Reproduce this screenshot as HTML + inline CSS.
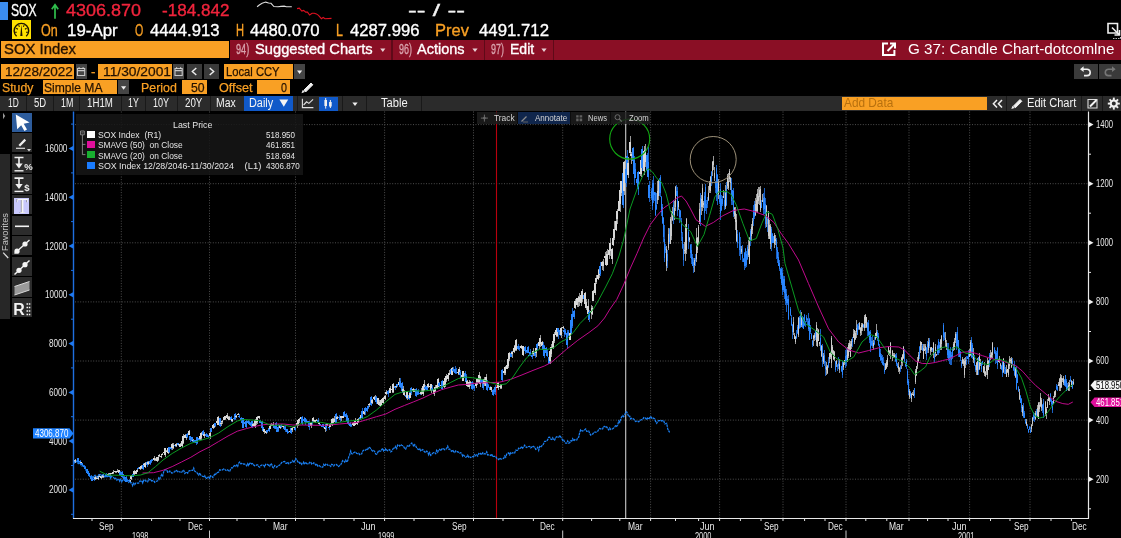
<!DOCTYPE html>
<html><head><meta charset="utf-8"><title>SOX Index - G 37: Candle Chart</title>
<style>
html,body{margin:0;padding:0;background:#000;}
body{width:1121px;height:538px;position:relative;overflow:hidden;font-family:"Liberation Sans", Arial, sans-serif;}
#w{position:absolute;left:0;top:0;width:1121px;height:538px;will-change:transform;}
.t{position:absolute;white-space:pre;transform-origin:0 0;display:block;}
.b{position:absolute;}
.ov{position:absolute;left:0;top:0;}
svg text.ax{font-family:"Liberation Sans", Arial, sans-serif;font-size:10px;fill:#e6e6e6;}
svg .u{stroke:#d8d8d8;stroke-width:2;}
svg .d{stroke:#2a86ff;stroke-width:2;}
svg .u1{stroke:#cccccc;stroke-width:1;}
svg .d1{stroke:#2a86ff;stroke-width:1;}
svg .g{stroke:#4e4e4e;stroke-width:1;stroke-dasharray:1 1.6;}
</style></head>
<body>
<div id="w">
<svg class="ov" width="1121" height="538" viewBox="0 0 1121 538">
<line x1="75" x2="1088.5" y1="124.6" y2="124.6" class="g"/>
<line x1="75" x2="1088.5" y1="183.7" y2="183.7" class="g"/>
<line x1="75" x2="1088.5" y1="242.8" y2="242.8" class="g"/>
<line x1="75" x2="1088.5" y1="301.9" y2="301.9" class="g"/>
<line x1="75" x2="1088.5" y1="361.0" y2="361.0" class="g"/>
<line x1="75" x2="1088.5" y1="420.1" y2="420.1" class="g"/>
<line x1="75" x2="1088.5" y1="479.2" y2="479.2" class="g"/>
<line x1="121.3" x2="121.3" y1="111.5" y2="518.5" class="g"/>
<line x1="209.5" x2="209.5" y1="111.5" y2="518.5" class="g"/>
<line x1="295.5" x2="295.5" y1="111.5" y2="518.5" class="g"/>
<line x1="384.6" x2="384.6" y1="111.5" y2="518.5" class="g"/>
<line x1="473.5" x2="473.5" y1="111.5" y2="518.5" class="g"/>
<line x1="562.7" x2="562.7" y1="111.5" y2="518.5" class="g"/>
<line x1="650.6" x2="650.6" y1="111.5" y2="518.5" class="g"/>
<line x1="719.6" x2="719.6" y1="111.5" y2="518.5" class="g"/>
<line x1="783.0" x2="783.0" y1="111.5" y2="518.5" class="g"/>
<line x1="846.0" x2="846.0" y1="111.5" y2="518.5" class="g"/>
<line x1="909.0" x2="909.0" y1="111.5" y2="518.5" class="g"/>
<line x1="969.6" x2="969.6" y1="111.5" y2="518.5" class="g"/>
<line x1="1030.0" x2="1030.0" y1="111.5" y2="518.5" class="g"/>
<line x1="496.5" x2="496.5" y1="111.5" y2="518.5" stroke="#b8000e" stroke-width="1.1"/>
<line x1="625.7" x2="625.7" y1="111.5" y2="518.5" stroke="#cacaca" stroke-width="1.1"/>
<g shape-rendering="crispEdges" fill="none">
<path d="M74.5 460.6V463.3M77.5 459.7V461.8M78.5 457.5V462.9M80.5 460.2V462.7M82.5 463.2V465.9M84.5 465.0V468.3M85.5 465.6V469.1M87.5 468.5V473.5M88.5 470.6V474.1M89.5 473.1V477.2M91.5 474.9V479.2M92.5 476.8V480.8M94.5 477.4V480.6M105.5 475.4V477.0M106.5 472.8V477.4M120.5 471.1V475.5M122.5 471.2V477.9M123.5 474.2V476.7M124.5 476.1V479.9M126.5 476.4V482.2M127.5 479.1V482.1M129.5 479.0V482.0M133.5 473.2V477.4M138.5 466.9V469.3M143.5 463.3V469.7M147.5 461.4V466.5M150.5 460.3V464.6M151.5 458.8V462.6M152.5 459.3V461.4M169.5 446.6V452.5M171.5 445.4V449.7M175.5 444.2V446.7M178.5 442.7V445.7M187.5 433.2V437.7M190.5 435.5V442.3M192.5 437.0V442.3M194.5 440.1V442.6M196.5 440.0V444.8M197.5 436.6V443.7M199.5 435.6V440.2M203.5 429.8V434.9M206.5 432.5V435.8M207.5 434.0V437.2M208.5 435.1V438.1M211.5 427.8V432.0M215.5 422.6V426.7M220.5 417.7V427.0M231.5 416.4V421.8M234.5 416.0V420.3M235.5 412.6V420.2M239.5 413.6V418.4M241.5 416.9V421.0M242.5 418.1V423.8M243.5 417.7V428.0M245.5 421.7V424.2M246.5 420.2V428.1M248.5 420.1V424.3M249.5 420.7V424.5M250.5 421.7V425.8M252.5 420.5V427.5M260.5 419.8V423.3M262.5 421.0V429.1M263.5 426.6V431.6M267.5 430.2V432.9M269.5 427.4V431.8M274.5 425.4V429.3M276.5 421.6V430.2M277.5 428.6V432.4M278.5 423.5V432.3M281.5 423.6V427.6M284.5 426.1V429.8M285.5 424.9V432.1M287.5 428.8V433.9M288.5 431.1V433.3M291.5 428.0V434.4M295.5 426.8V431.2M302.5 416.4V424.9M304.5 417.1V421.3M305.5 418.2V424.6M306.5 418.8V422.7M308.5 421.0V423.7M309.5 421.1V430.2M312.5 421.3V424.5M318.5 418.3V423.0M320.5 423.6V426.2M322.5 424.4V426.9M323.5 423.5V427.8M326.5 423.3V430.8M329.5 426.4V430.0M336.5 413.1V422.7M339.5 415.1V419.5M340.5 416.9V421.6M344.5 411.1V416.7M346.5 413.2V418.0M347.5 415.3V421.4M348.5 417.9V424.9M350.5 421.5V427.0M351.5 424.2V426.7M360.5 416.6V419.8M362.5 408.4V419.1M365.5 406.7V414.8M367.5 407.4V411.8M368.5 404.5V408.9M371.5 395.7V405.7M376.5 396.3V403.5M388.5 390.0V396.7M389.5 388.3V393.1M395.5 385.8V389.9M397.5 383.6V387.2M400.5 377.9V387.8M402.5 382.2V392.5M406.5 393.9V398.7M409.5 392.1V399.9M411.5 386.5V395.1M416.5 387.9V397.2M417.5 389.6V395.3M418.5 389.0V395.0M420.5 392.3V395.2M425.5 384.9V390.0M427.5 383.7V391.2M432.5 385.4V390.8M439.5 382.4V386.8M442.5 380.3V390.2M451.5 368.0V375.2M453.5 366.9V372.3M455.5 365.5V373.6M456.5 367.9V373.9M460.5 370.0V377.8M465.5 371.0V379.6M466.5 373.7V383.3M472.5 381.0V389.8M473.5 384.4V388.8M474.5 385.1V390.6M481.5 379.2V383.3M483.5 379.0V389.8M487.5 379.7V391.1M488.5 383.9V387.9M490.5 385.6V390.2M493.5 389.2V395.8M494.5 389.4V394.2M495.5 385.3V395.2M502.5 369.3V381.9M511.5 351.3V356.8M518.5 343.9V349.7M519.5 345.5V350.9M525.5 345.8V354.3M526.5 349.5V353.3M528.5 345.8V353.4M529.5 352.4V356.3M530.5 349.2V356.1M532.5 353.0V358.7M535.5 349.3V357.9M537.5 342.8V350.4M543.5 341.9V351.4M544.5 344.7V358.0M546.5 347.2V353.7M547.5 348.8V357.2M549.5 355.8V364.1M558.5 327.9V338.7M560.5 327.9V336.0M564.5 328.4V337.2M565.5 329.1V335.2M567.5 329.9V349.1M568.5 330.2V335.9M571.5 318.9V334.0M572.5 307.5V327.5M574.5 309.8V319.3M584.5 294.2V300.4M589.5 310.3V321.9M600.5 262.4V276.3M623.5 169.7V208.0M626.5 163.1V187.0M627.5 150.3V170.8M633.5 147.1V161.9M634.5 156.3V185.1M635.5 163.2V178.3M637.5 171.7V188.0M638.5 170.7V195.2M642.5 145.7V170.9M647.5 152.6V173.6M648.5 146.5V179.5M649.5 180.8V201.6M651.5 187.9V200.4M652.5 180.1V209.9M653.5 176.1V202.9M654.5 191.5V200.7M655.5 191.8V215.6M656.5 192.5V209.6M659.5 178.2V195.7M660.5 174.9V196.8M661.5 195.8V215.8M662.5 203.5V223.5M663.5 217.3V241.7M664.5 225.2V261.7M665.5 243.6V253.2M667.5 250.4V268.1M669.5 227.6V243.5M673.5 200.1V224.2M676.5 184.5V196.0M677.5 187.2V215.7M679.5 208.8V223.3M680.5 209.9V221.3M681.5 218.1V241.3M682.5 232.4V249.3M683.5 243.5V265.5M688.5 224.0V249.0M690.5 243.8V257.6M691.5 244.1V263.8M692.5 253.9V266.3M693.5 258.4V272.8M695.5 253.5V266.4M700.5 193.4V225.6M704.5 191.5V219.8M705.5 184.2V211.1M706.5 199.6V214.0M707.5 197.4V207.7M711.5 170.6V186.3M715.5 181.2V193.1M716.5 165.2V201.1M717.5 173.6V204.8M719.5 194.8V203.8M720.5 182.5V220.0M721.5 194.7V211.3M722.5 196.2V206.1M724.5 190.6V209.7M726.5 182.3V205.9M731.5 177.7V205.2M732.5 190.0V205.3M733.5 188.4V216.8M737.5 229.7V247.6M739.5 231.8V255.9M740.5 237.4V259.5M742.5 245.0V261.9M743.5 257.9V262.4M744.5 252.2V270.3M745.5 248.2V268.4M746.5 251.4V266.5M747.5 245.0V260.1M750.5 228.9V245.8M753.5 205.3V225.6M754.5 201.4V219.0M761.5 200.2V208.3M763.5 193.1V215.1M764.5 188.3V214.3M765.5 197.5V228.1M767.5 217.3V231.7M771.5 226.7V251.3M772.5 232.9V242.9M773.5 236.1V243.2M776.5 238.1V258.7M777.5 246.8V262.8M778.5 251.7V266.1M779.5 259.7V270.8M780.5 267.9V279.1M781.5 267.1V284.6M782.5 268.4V295.1M783.5 276.4V292.4M784.5 276.4V299.2M785.5 286.2V304.7M786.5 289.4V312.0M787.5 296.1V304.5M788.5 295.1V319.8M790.5 307.3V316.1M791.5 315.4V326.0M792.5 323.8V339.4M796.5 330.3V338.8M797.5 325.4V333.9M799.5 316.4V329.2M800.5 310.4V328.1M802.5 316.2V327.8M803.5 316.9V329.1M804.5 313.6V326.0M805.5 321.1V326.5M806.5 314.9V322.2M807.5 317.6V325.0M808.5 312.7V331.4M809.5 318.2V340.2M810.5 324.5V334.1M811.5 332.7V339.3M812.5 339.8V347.3M815.5 330.0V339.8M820.5 329.2V350.8M822.5 343.7V366.5M824.5 350.1V365.7M825.5 360.8V375.6M828.5 356.8V368.1M835.5 360.5V372.0M837.5 363.5V370.8M838.5 356.8V369.0M841.5 365.5V371.7M842.5 361.4V378.2M845.5 349.7V368.0M846.5 348.2V365.7M852.5 336.7V346.7M857.5 324.4V334.8M858.5 323.1V329.8M863.5 323.6V328.2M867.5 321.7V335.7M868.5 319.5V335.6M869.5 331.1V343.3M870.5 329.7V352.2M871.5 337.2V346.0M872.5 336.4V348.0M874.5 336.6V345.4M877.5 329.5V341.1M878.5 333.3V345.5M879.5 344.0V357.2M880.5 349.4V360.9M881.5 353.9V362.6M882.5 355.0V364.8M883.5 357.3V366.0M884.5 363.0V373.8M895.5 353.9V361.9M896.5 352.6V366.0M897.5 363.3V368.3M900.5 365.1V371.9M904.5 349.3V363.2M905.5 361.5V366.8M906.5 358.8V368.6M907.5 369.1V385.4M908.5 379.2V394.5M910.5 391.3V398.4M914.5 387.6V398.2M919.5 346.0V358.7M922.5 344.4V351.0M926.5 346.9V359.7M927.5 340.7V353.1M929.5 337.8V348.3M932.5 347.7V351.8M934.5 352.9V362.3M937.5 344.7V354.8M938.5 338.9V355.1M939.5 342.0V352.9M943.5 322.9V340.5M944.5 331.6V340.1M947.5 343.1V358.4M948.5 342.9V361.3M949.5 348.9V363.7M950.5 346.6V364.7M951.5 351.8V364.7M952.5 347.3V358.5M956.5 332.2V350.1M957.5 327.4V346.9M958.5 339.5V356.7M959.5 347.6V356.8M960.5 351.4V360.5M961.5 359.7V368.0M966.5 355.7V365.4M967.5 355.8V359.3M968.5 350.1V363.8M971.5 337.2V357.5M972.5 343.0V359.2M974.5 354.8V366.4M975.5 364.6V372.1M978.5 356.8V374.6M981.5 362.0V371.6M982.5 360.6V364.6M989.5 353.4V367.4M994.5 346.6V354.3M995.5 350.2V364.3M996.5 350.8V362.9M997.5 347.4V369.0M1001.5 364.7V369.8M1002.5 360.5V376.6M1004.5 363.4V374.3M1005.5 366.7V374.4M1012.5 358.2V365.3M1013.5 364.1V370.5M1014.5 361.0V375.9M1016.5 366.0V389.6M1017.5 374.2V383.3M1018.5 386.4V391.7M1020.5 395.2V402.8M1021.5 397.6V411.5M1023.5 402.9V418.0M1024.5 411.4V418.4M1025.5 418.7V423.6M1027.5 424.3V428.7M1028.5 428.5V432.8M1029.5 426.3V430.0M1030.5 427.2V433.0M1033.5 412.2V420.5M1034.5 412.7V421.5M1036.5 409.1V417.1M1042.5 404.3V412.8M1043.5 399.2V417.8M1050.5 393.2V402.2M1051.5 399.3V405.6M1052.5 400.5V413.3M1056.5 384.3V389.6M1057.5 384.6V390.5M1064.5 379.2V385.6M1065.5 374.5V387.4M1066.5 379.4V391.4M1067.5 383.2V389.8M1070.5 375.8V381.9M1072.5 380.7V388.8" stroke="#1a5fc0" stroke-width="1"/>
<path d="M75.5 458.9V462.9M81.5 461.7V465.1M95.5 476.3V479.6M96.5 477.1V479.1M98.5 475.5V479.7M99.5 474.2V477.1M101.5 475.2V478.6M102.5 474.8V477.7M103.5 474.0V477.5M108.5 473.0V475.5M109.5 473.5V474.9M110.5 472.9V475.5M112.5 472.3V474.3M113.5 469.8V473.5M115.5 470.7V472.8M116.5 470.5V472.7M117.5 468.9V472.0M119.5 469.5V473.5M130.5 479.5V481.9M131.5 475.2V479.9M134.5 470.1V474.7M136.5 470.4V474.4M137.5 469.2V472.0M140.5 467.0V469.6M141.5 464.7V468.9M144.5 464.2V465.9M145.5 462.3V467.7M148.5 461.3V464.7M154.5 456.4V460.9M155.5 458.3V461.1M157.5 456.9V462.3M158.5 456.0V461.4M159.5 453.9V456.9M161.5 454.9V457.9M162.5 453.2V455.1M164.5 451.6V453.9M165.5 447.5V457.1M166.5 450.1V452.3M168.5 447.3V453.5M172.5 443.4V449.9M173.5 443.4V448.8M176.5 443.3V446.6M179.5 444.1V446.0M180.5 443.2V447.1M182.5 439.9V447.0M183.5 434.0V443.6M185.5 433.9V438.1M186.5 435.0V439.8M189.5 430.2V435.1M193.5 438.7V441.1M200.5 434.2V439.8M201.5 431.8V440.2M204.5 432.4V437.5M210.5 432.1V438.5M213.5 424.0V429.0M214.5 423.8V428.0M217.5 420.9V423.5M218.5 415.9V425.4M221.5 421.9V425.5M222.5 420.0V423.6M224.5 416.5V419.7M225.5 415.9V419.8M227.5 413.2V418.4M228.5 416.1V419.9M229.5 415.6V420.1M232.5 418.7V422.0M236.5 414.5V417.5M238.5 413.0V415.4M253.5 423.3V425.8M255.5 419.0V428.1M256.5 420.6V424.8M257.5 415.8V424.0M259.5 415.6V418.6M264.5 428.5V433.5M266.5 429.6V433.7M270.5 424.7V429.2M271.5 422.5V426.4M273.5 421.7V426.9M280.5 425.1V428.9M283.5 425.7V427.6M290.5 428.3V432.6M292.5 427.4V431.6M294.5 427.0V429.6M297.5 422.6V428.0M298.5 419.0V425.7M299.5 417.7V423.3M301.5 416.5V420.2M311.5 422.7V427.6M313.5 417.3V421.6M315.5 419.6V422.5M316.5 418.8V420.5M319.5 422.3V425.2M325.5 425.7V431.8M327.5 423.3V426.1M330.5 422.9V426.8M332.5 417.9V425.6M333.5 418.2V423.3M334.5 415.9V421.9M337.5 415.9V419.2M341.5 415.5V420.8M343.5 415.1V418.0M353.5 422.0V424.8M354.5 421.8V426.0M355.5 418.3V424.8M357.5 419.6V425.0M358.5 418.4V422.6M361.5 413.7V418.3M364.5 409.6V415.1M369.5 403.1V406.5M372.5 399.1V403.8M374.5 396.4V399.2M375.5 395.3V401.3M378.5 397.7V405.0M379.5 400.2V406.3M381.5 398.5V406.1M382.5 398.4V403.2M383.5 397.4V404.0M385.5 395.3V399.8M386.5 389.6V394.7M390.5 386.2V393.1M392.5 388.0V392.6M393.5 382.5V393.2M396.5 385.3V387.6M399.5 378.2V386.2M403.5 386.0V393.5M404.5 390.0V395.8M407.5 390.7V399.8M410.5 392.0V398.4M413.5 387.9V391.5M414.5 388.6V392.2M421.5 387.6V395.3M423.5 385.4V395.5M424.5 380.1V390.7M428.5 383.0V388.0M430.5 384.6V388.3M431.5 383.9V392.6M434.5 387.5V395.7M435.5 384.5V391.9M437.5 384.4V389.0M438.5 377.6V386.9M441.5 382.4V387.4M444.5 380.5V387.8M445.5 377.4V386.5M446.5 374.2V382.1M448.5 372.6V380.7M449.5 369.7V375.4M452.5 367.1V375.2M458.5 369.2V375.3M459.5 366.6V375.1M462.5 373.2V379.2M463.5 370.5V381.0M467.5 379.9V386.5M469.5 379.7V389.4M470.5 380.7V385.9M476.5 382.4V388.0M477.5 377.5V384.7M479.5 372.4V384.4M480.5 376.4V387.3M484.5 376.9V385.6M486.5 374.4V386.4M491.5 387.0V391.5M497.5 386.1V388.2M498.5 382.2V389.5M500.5 384.0V388.8M501.5 383.7V389.0M504.5 369.7V375.2M505.5 365.8V374.6M507.5 363.6V369.1M508.5 356.0V368.3M509.5 352.4V361.1M512.5 350.9V357.7M514.5 344.6V353.4M515.5 344.7V350.7M516.5 339.2V351.1M521.5 345.0V349.4M522.5 347.0V351.9M523.5 345.6V355.8M533.5 347.9V355.5M536.5 347.6V357.3M539.5 341.0V349.4M540.5 334.8V346.9M542.5 341.4V348.5M550.5 349.1V363.6M551.5 343.5V356.6M553.5 340.0V348.6M554.5 331.6V343.1M556.5 329.4V337.1M557.5 327.9V337.4M561.5 326.5V337.9M563.5 326.2V328.8M570.5 331.9V339.8M575.5 298.8V308.7M577.5 297.5V307.2M578.5 296.2V306.5M579.5 293.0V306.3M581.5 291.2V305.7M582.5 288.7V302.0M585.5 292.0V307.4M586.5 299.3V310.1M588.5 299.2V319.7M591.5 304.9V318.9M592.5 306.4V315.1M593.5 289.8V301.3M595.5 282.4V295.2M596.5 275.2V283.8M598.5 268.9V280.2M599.5 266.3V277.5M602.5 261.2V269.7M603.5 258.7V270.6M605.5 251.6V260.9M606.5 250.7V266.4M607.5 248.6V265.1M609.5 245.8V258.8M610.5 237.5V255.8M612.5 247.5V263.8M613.5 234.6V245.7M614.5 220.5V240.3M616.5 215.3V230.5M617.5 209.0V224.1M619.5 194.9V211.0M620.5 188.1V211.7M621.5 180.8V196.0M624.5 161.0V195.4M628.5 157.2V178.2M630.5 135.9V155.5M631.5 151.6V163.7M640.5 169.9V175.7M641.5 154.3V177.2M644.5 146.4V175.2M645.5 143.7V167.0M657.5 181.3V203.9M658.5 179.5V200.3M666.5 246.2V270.6M668.5 228.0V250.1M670.5 217.0V244.1M671.5 211.3V239.9M672.5 206.6V220.9M674.5 201.0V219.8M675.5 186.2V211.0M678.5 200.8V209.7M684.5 242.4V253.7M685.5 224.4V261.1M686.5 218.4V254.2M689.5 236.5V242.3M694.5 258.0V272.4M696.5 228.4V262.4M697.5 237.3V252.7M698.5 224.6V244.1M699.5 203.3V224.2M701.5 194.9V214.9M702.5 184.2V211.2M703.5 201.2V207.8M708.5 185.9V200.9M709.5 181.0V192.6M710.5 176.0V193.4M712.5 161.2V175.9M713.5 156.3V170.3M714.5 167.2V181.2M718.5 179.3V199.3M723.5 190.4V198.3M725.5 185.1V209.2M727.5 174.1V188.6M728.5 173.0V190.4M729.5 169.1V181.9M730.5 176.9V190.2M734.5 206.5V218.7M735.5 207.3V230.2M736.5 213.8V242.0M741.5 246.2V253.9M748.5 240.0V256.9M749.5 236.7V264.2M751.5 223.5V241.4M752.5 218.2V234.4M755.5 197.7V215.7M756.5 194.1V211.6M757.5 188.9V213.2M758.5 186.5V204.2M759.5 187.2V204.9M760.5 186.2V212.4M762.5 193.7V202.4M766.5 205.1V227.0M768.5 211.0V238.9M769.5 220.0V239.3M770.5 224.0V249.4M774.5 232.5V248.3M775.5 235.4V244.6M793.5 316.8V334.8M794.5 332.9V339.4M795.5 336.2V343.8M798.5 316.6V337.0M801.5 312.1V326.8M813.5 335.2V345.8M814.5 333.1V341.2M816.5 321.9V345.8M817.5 328.1V347.3M818.5 328.9V341.3M819.5 341.6V346.3M821.5 344.8V357.3M823.5 353.3V363.8M826.5 362.2V375.3M827.5 364.7V374.2M829.5 352.7V363.2M830.5 351.8V358.7M831.5 336.0V367.8M832.5 344.5V355.4M833.5 349.9V359.5M834.5 350.5V360.9M836.5 360.3V367.2M839.5 358.6V372.9M843.5 361.9V369.8M844.5 359.5V364.9M847.5 347.0V361.6M848.5 343.4V357.8M849.5 339.6V351.7M850.5 340.5V357.4M851.5 339.3V349.2M853.5 329.0V338.4M854.5 329.6V343.9M855.5 331.1V339.9M856.5 320.4V338.4M859.5 322.1V330.2M860.5 327.1V335.7M861.5 323.2V334.7M862.5 322.9V331.3M864.5 315.3V330.6M865.5 314.0V328.2M866.5 316.6V328.2M873.5 339.5V350.2M875.5 333.0V340.3M876.5 323.6V338.3M885.5 363.2V370.2M886.5 360.4V368.6M887.5 354.9V366.5M888.5 346.2V355.3M889.5 350.1V355.5M890.5 342.4V358.8M892.5 349.7V360.6M893.5 353.1V358.4M894.5 353.2V357.5M898.5 361.9V372.3M899.5 367.4V373.6M901.5 356.8V368.6M902.5 354.3V365.9M903.5 346.4V358.5M909.5 388.6V398.5M911.5 392.7V401.7M912.5 391.6V395.3M913.5 389.8V396.0M915.5 369.3V383.7M916.5 365.7V376.3M917.5 356.9V368.8M918.5 351.6V362.2M920.5 341.2V353.0M921.5 341.9V350.0M923.5 343.6V359.3M924.5 343.6V351.1M925.5 343.6V354.2M928.5 337.5V352.5M930.5 347.1V355.3M931.5 346.7V351.7M933.5 342.2V358.4M935.5 344.3V356.9M936.5 353.6V356.0M940.5 338.7V350.2M941.5 335.2V350.3M945.5 331.8V347.3M946.5 340.0V349.5M953.5 341.7V351.2M954.5 337.6V349.7M955.5 331.8V342.9M962.5 357.4V364.3M963.5 359.0V366.1M964.5 358.1V378.0M965.5 357.1V367.9M969.5 349.4V357.3M970.5 340.3V356.3M973.5 348.2V363.3M976.5 361.6V375.2M977.5 358.0V375.0M979.5 353.4V369.9M980.5 358.8V366.3M983.5 365.6V373.0M984.5 362.4V375.8M985.5 370.9V377.3M986.5 365.2V375.3M987.5 358.2V379.1M988.5 359.7V370.1M990.5 350.0V359.7M991.5 352.3V358.7M992.5 342.3V358.1M998.5 358.6V362.3M999.5 355.5V363.0M1000.5 363.0V368.9M1003.5 357.6V373.1M1006.5 365.2V377.0M1007.5 369.0V372.7M1008.5 362.8V377.0M1009.5 355.6V369.4M1010.5 357.5V363.0M1011.5 357.1V367.9M1015.5 366.5V377.8M1019.5 389.4V400.1M1022.5 405.0V416.3M1026.5 419.4V426.2M1031.5 424.0V431.6M1032.5 416.9V426.1M1035.5 410.6V420.1M1037.5 404.7V417.1M1038.5 401.6V418.7M1039.5 401.6V412.2M1040.5 392.9V406.8M1041.5 398.3V410.7M1045.5 401.0V416.4M1046.5 407.2V418.7M1047.5 399.1V408.0M1048.5 394.4V401.2M1049.5 396.6V404.7M1053.5 396.3V403.9M1054.5 390.6V397.9M1055.5 389.9V397.4M1058.5 381.5V386.3M1059.5 378.1V390.6M1060.5 374.0V391.1M1061.5 375.3V388.1M1062.5 377.9V382.0M1063.5 376.2V384.7M1068.5 382.0V390.9M1069.5 380.3V390.5M1071.5 379.8V387.1M1073.5 378.8V384.9" stroke="#9a9a9a" stroke-width="1"/>
<path class="d" d="M74 461.0V462.4"/><path class="u" d="M75 459.8V462.5"/><path class="d" d="M77 460.5V461.5"/><path class="d" d="M78 458.4V462.3"/><path class="d" d="M80 460.8V462.3"/><path class="u" d="M81 462.3V464.1"/><path class="d" d="M82 463.4V465.2"/><path class="d" d="M84 465.5V467.3"/><path class="d" d="M85 466.7V468.9"/><path class="d" d="M87 468.7V472.8"/><path class="d" d="M88 471.3V473.5"/><path class="d" d="M89 473.4V476.2"/><path class="d" d="M91 475.8V478.5"/><path class="d" d="M92 477.8V480.5"/><path class="d" d="M94 479.0V480.2"/><path class="u" d="M95 477.1V479.3"/><path class="u" d="M96 477.6V478.6"/><path class="u" d="M98 476.3V479.2"/><path class="u" d="M99 475.5V476.8"/><path class="u" d="M101 475.7V478.3"/><path class="u" d="M102 475.7V477.1"/><path class="u" d="M103 474.7V476.8"/><path class="d" d="M105 475.6V476.7"/><path class="d" d="M106 473.7V476.4"/><path class="u" d="M108 473.7V475.1"/><path class="u" d="M109 473.8V474.8"/><path class="u" d="M110 473.4V474.4"/><path class="u" d="M112 472.5V473.5"/><path class="u" d="M113 471.6V472.6"/><path class="u" d="M115 471.2V472.2"/><path class="u" d="M116 470.9V472.2"/><path class="u" d="M117 470.8V471.8"/><path class="u" d="M119 470.3V472.7"/><path class="d" d="M120 471.5V474.9"/><path class="d" d="M122 472.3V477.3"/><path class="d" d="M123 474.4V476.4"/><path class="d" d="M124 477.2V479.1"/><path class="d" d="M126 477.1V481.9"/><path class="d" d="M127 479.6V481.0"/><path class="d" d="M129 479.7V481.0"/><path class="u" d="M130 480.2V481.7"/><path class="u" d="M131 475.9V478.8"/><path class="d" d="M133 474.2V477.1"/><path class="u" d="M134 471.2V473.9"/><path class="u" d="M136 470.7V473.7"/><path class="u" d="M137 470.3V471.6"/><path class="d" d="M138 467.6V468.9"/><path class="u" d="M140 467.2V468.5"/><path class="u" d="M141 465.9V468.3"/><path class="d" d="M143 464.8V468.8"/><path class="u" d="M144 464.4V465.4"/><path class="u" d="M145 462.8V466.8"/><path class="d" d="M147 462.3V465.2"/><path class="u" d="M148 461.5V463.9"/><path class="d" d="M150 460.9V463.7"/><path class="d" d="M151 460.1V462.3"/><path class="d" d="M152 459.7V460.8"/><path class="u" d="M154 458.2V460.1"/><path class="u" d="M155 459.1V460.4"/><path class="u" d="M157 457.4V460.6"/><path class="u" d="M158 456.6V459.8"/><path class="u" d="M159 454.8V456.2"/><path class="u" d="M161 455.8V457.1"/><path class="u" d="M162 453.5V454.8"/><path class="u" d="M164 451.8V453.1"/><path class="u" d="M165 448.2V454.8"/><path class="u" d="M166 450.6V452.1"/><path class="u" d="M168 447.7V452.8"/><path class="d" d="M169 447.3V452.1"/><path class="d" d="M171 447.3V448.6"/><path class="u" d="M172 444.4V448.1"/><path class="u" d="M173 445.4V448.0"/><path class="d" d="M175 444.5V446.1"/><path class="u" d="M176 443.8V445.7"/><path class="d" d="M178 442.9V445.4"/><path class="u" d="M179 444.4V445.4"/><path class="u" d="M180 443.5V446.5"/><path class="u" d="M182 440.9V446.1"/><path class="u" d="M183 435.6V443.0"/><path class="u" d="M185 434.6V437.8"/><path class="u" d="M186 435.7V438.0"/><path class="d" d="M187 433.6V436.8"/><path class="u" d="M189 431.3V434.7"/><path class="d" d="M190 435.8V439.6"/><path class="d" d="M192 437.2V441.0"/><path class="u" d="M193 439.6V440.9"/><path class="d" d="M194 440.4V442.1"/><path class="d" d="M196 440.2V443.3"/><path class="d" d="M197 437.3V443.0"/><path class="d" d="M199 437.5V439.5"/><path class="u" d="M200 436.1V438.8"/><path class="u" d="M201 432.6V438.3"/><path class="d" d="M203 431.4V434.7"/><path class="u" d="M204 434.1V436.2"/><path class="d" d="M206 433.8V435.5"/><path class="d" d="M207 435.3V437.0"/><path class="d" d="M208 436.0V437.2"/><path class="u" d="M210 432.5V435.7"/><path class="d" d="M211 428.2V431.7"/><path class="u" d="M213 424.7V428.2"/><path class="u" d="M214 424.1V427.1"/><path class="d" d="M215 423.2V425.8"/><path class="u" d="M217 421.2V422.7"/><path class="u" d="M218 417.3V425.1"/><path class="d" d="M220 418.2V426.2"/><path class="u" d="M221 422.9V424.2"/><path class="u" d="M222 421.3V422.3"/><path class="u" d="M224 416.9V419.5"/><path class="u" d="M225 416.4V419.0"/><path class="u" d="M227 415.3V418.2"/><path class="u" d="M228 417.1V418.9"/><path class="u" d="M229 417.3V419.9"/><path class="d" d="M231 417.0V419.9"/><path class="u" d="M232 418.9V420.9"/><path class="d" d="M234 418.2V419.2"/><path class="d" d="M235 414.1V419.4"/><path class="u" d="M236 416.0V417.3"/><path class="u" d="M238 413.7V415.0"/><path class="d" d="M239 415.6V417.4"/><path class="d" d="M241 418.1V420.4"/><path class="d" d="M242 420.5V422.9"/><path class="d" d="M243 418.4V427.6"/><path class="d" d="M245 422.3V423.9"/><path class="d" d="M246 420.5V426.8"/><path class="d" d="M248 421.0V423.3"/><path class="d" d="M249 422.4V424.3"/><path class="d" d="M250 422.7V424.6"/><path class="d" d="M252 420.9V427.1"/><path class="u" d="M253 424.3V425.6"/><path class="u" d="M255 420.1V426.1"/><path class="u" d="M256 421.2V423.0"/><path class="u" d="M257 417.1V422.3"/><path class="u" d="M259 416.3V418.1"/><path class="d" d="M260 420.5V422.5"/><path class="d" d="M262 421.4V427.6"/><path class="d" d="M263 426.9V431.3"/><path class="u" d="M264 429.0V432.4"/><path class="u" d="M266 431.2V433.2"/><path class="d" d="M267 430.4V432.0"/><path class="d" d="M269 427.7V431.4"/><path class="u" d="M270 425.5V428.5"/><path class="u" d="M271 423.6V426.0"/><path class="u" d="M273 423.7V426.0"/><path class="d" d="M274 425.8V428.1"/><path class="d" d="M276 422.6V429.4"/><path class="d" d="M277 429.8V431.8"/><path class="d" d="M278 427.2V431.3"/><path class="u" d="M280 425.3V428.4"/><path class="d" d="M281 424.5V427.4"/><path class="u" d="M283 426.4V427.4"/><path class="d" d="M284 427.8V429.2"/><path class="d" d="M285 426.7V430.2"/><path class="d" d="M287 429.2V432.1"/><path class="d" d="M288 431.7V433.0"/><path class="u" d="M290 430.6V432.0"/><path class="d" d="M291 428.3V432.6"/><path class="u" d="M292 427.6V430.2"/><path class="u" d="M294 427.3V428.3"/><path class="d" d="M295 427.6V429.9"/><path class="u" d="M297 423.3V426.1"/><path class="u" d="M298 419.8V425.0"/><path class="u" d="M299 418.5V421.3"/><path class="u" d="M301 417.0V418.6"/><path class="d" d="M302 416.6V424.2"/><path class="d" d="M304 418.5V421.0"/><path class="d" d="M305 418.4V422.3"/><path class="d" d="M306 419.8V421.5"/><path class="d" d="M308 421.2V422.7"/><path class="d" d="M309 421.7V427.4"/><path class="u" d="M311 423.4V426.0"/><path class="d" d="M312 421.8V423.1"/><path class="u" d="M313 418.0V420.9"/><path class="u" d="M315 420.3V421.5"/><path class="u" d="M316 419.5V420.5"/><path class="d" d="M318 419.5V422.3"/><path class="u" d="M319 422.9V424.4"/><path class="d" d="M320 424.4V425.7"/><path class="d" d="M322 425.1V426.5"/><path class="d" d="M323 424.1V426.7"/><path class="u" d="M325 426.8V429.2"/><path class="d" d="M326 424.3V428.3"/><path class="u" d="M327 423.6V425.2"/><path class="d" d="M329 427.4V428.4"/><path class="u" d="M330 424.4V426.5"/><path class="u" d="M332 418.9V424.6"/><path class="u" d="M333 420.8V422.8"/><path class="u" d="M334 418.8V421.5"/><path class="d" d="M336 413.7V422.5"/><path class="u" d="M337 417.0V418.7"/><path class="d" d="M339 417.1V418.1"/><path class="d" d="M340 418.2V420.3"/><path class="u" d="M341 416.1V418.2"/><path class="u" d="M343 415.6V417.5"/><path class="d" d="M344 412.0V415.8"/><path class="d" d="M346 414.2V416.6"/><path class="d" d="M347 416.3V421.2"/><path class="d" d="M348 418.3V424.2"/><path class="d" d="M350 422.7V426.2"/><path class="d" d="M351 424.8V426.3"/><path class="u" d="M353 423.2V424.6"/><path class="u" d="M354 424.7V425.7"/><path class="u" d="M355 421.1V424.5"/><path class="u" d="M357 422.2V423.9"/><path class="u" d="M358 419.3V421.9"/><path class="d" d="M360 416.8V419.4"/><path class="u" d="M361 414.6V417.9"/><path class="d" d="M362 410.8V418.0"/><path class="u" d="M364 410.6V414.1"/><path class="d" d="M365 408.1V411.7"/><path class="d" d="M367 407.9V410.6"/><path class="d" d="M368 406.3V408.0"/><path class="u" d="M369 403.7V405.4"/><path class="d" d="M371 396.9V405.4"/><path class="u" d="M372 400.3V402.7"/><path class="u" d="M374 397.2V398.8"/><path class="u" d="M375 396.5V400.4"/><path class="d" d="M376 396.9V402.2"/><path class="u" d="M378 397.9V404.1"/><path class="u" d="M379 402.0V405.3"/><path class="u" d="M381 399.8V405.5"/><path class="u" d="M382 399.4V402.9"/><path class="u" d="M383 398.4V403.3"/><path class="u" d="M385 395.6V399.0"/><path class="u" d="M386 391.7V394.4"/><path class="d" d="M388 391.2V393.8"/><path class="d" d="M389 391.2V392.8"/><path class="u" d="M390 387.9V392.8"/><path class="u" d="M392 389.3V390.4"/><path class="u" d="M393 383.8V391.6"/><path class="d" d="M395 386.2V387.7"/><path class="u" d="M396 385.6V387.3"/><path class="d" d="M397 383.9V385.8"/><path class="u" d="M399 381.5V384.5"/><path class="d" d="M400 380.8V387.0"/><path class="d" d="M402 383.2V391.3"/><path class="u" d="M403 388.8V391.9"/><path class="u" d="M404 392.1V395.2"/><path class="d" d="M406 394.8V396.7"/><path class="u" d="M407 391.6V398.0"/><path class="d" d="M409 394.8V398.6"/><path class="u" d="M410 392.8V398.0"/><path class="d" d="M411 388.4V393.0"/><path class="u" d="M413 388.5V391.3"/><path class="u" d="M414 389.8V391.9"/><path class="d" d="M416 389.0V395.5"/><path class="d" d="M417 391.2V394.8"/><path class="d" d="M418 390.9V393.9"/><path class="d" d="M420 392.8V394.3"/><path class="u" d="M421 391.5V393.6"/><path class="u" d="M423 386.2V393.8"/><path class="u" d="M424 383.6V390.3"/><path class="d" d="M425 386.7V388.5"/><path class="d" d="M427 386.2V390.1"/><path class="u" d="M428 383.7V387.4"/><path class="u" d="M430 385.9V386.9"/><path class="u" d="M431 384.3V390.8"/><path class="d" d="M432 387.5V389.9"/><path class="u" d="M434 388.9V393.6"/><path class="u" d="M435 386.5V390.7"/><path class="u" d="M437 385.0V387.7"/><path class="u" d="M438 378.5V386.7"/><path class="d" d="M439 383.0V385.8"/><path class="u" d="M441 384.7V386.1"/><path class="d" d="M442 380.7V388.5"/><path class="u" d="M444 381.3V387.4"/><path class="u" d="M445 378.2V384.7"/><path class="u" d="M446 375.9V379.9"/><path class="u" d="M448 375.1V379.3"/><path class="u" d="M449 373.0V374.8"/><path class="d" d="M451 369.2V373.7"/><path class="u" d="M452 368.2V374.5"/><path class="d" d="M453 368.6V371.3"/><path class="d" d="M455 368.9V372.5"/><path class="d" d="M456 372.3V373.4"/><path class="u" d="M458 371.7V373.3"/><path class="u" d="M459 369.2V374.3"/><path class="d" d="M460 371.8V374.5"/><path class="u" d="M462 375.4V377.4"/><path class="u" d="M463 371.1V380.5"/><path class="d" d="M465 373.3V378.3"/><path class="d" d="M466 376.3V381.5"/><path class="u" d="M467 380.9V385.7"/><path class="u" d="M469 381.7V387.4"/><path class="u" d="M470 382.1V384.1"/><path class="d" d="M472 381.5V388.9"/><path class="d" d="M473 385.2V387.8"/><path class="d" d="M474 385.7V388.2"/><path class="u" d="M476 383.1V386.2"/><path class="u" d="M477 378.9V382.0"/><path class="u" d="M479 374.8V382.7"/><path class="u" d="M480 376.8V383.5"/><path class="d" d="M481 380.1V382.6"/><path class="d" d="M483 379.8V387.5"/><path class="u" d="M484 379.0V383.8"/><path class="u" d="M486 377.3V385.5"/><path class="d" d="M487 382.7V389.8"/><path class="d" d="M488 384.9V387.3"/><path class="d" d="M490 387.4V389.9"/><path class="u" d="M491 387.3V389.6"/><path class="d" d="M493 390.3V394.6"/><path class="d" d="M494 391.0V392.1"/><path class="d" d="M495 387.4V391.6"/><path class="u" d="M497 386.5V387.6"/><path class="u" d="M498 383.4V388.1"/><path class="u" d="M500 385.6V387.1"/><path class="u" d="M501 384.5V387.5"/><path class="d" d="M502 369.7V380.2"/><path class="u" d="M504 370.5V373.1"/><path class="u" d="M505 366.6V373.0"/><path class="u" d="M507 364.8V368.9"/><path class="u" d="M508 358.6V366.2"/><path class="u" d="M509 353.3V358.8"/><path class="d" d="M511 353.1V356.6"/><path class="u" d="M512 351.6V353.8"/><path class="u" d="M514 347.5V352.0"/><path class="u" d="M515 345.7V348.8"/><path class="u" d="M516 340.1V350.0"/><path class="d" d="M518 345.7V348.6"/><path class="d" d="M519 347.9V348.9"/><path class="u" d="M521 345.9V348.3"/><path class="u" d="M522 347.3V348.4"/><path class="u" d="M523 346.0V355.3"/><path class="d" d="M525 347.1V351.2"/><path class="d" d="M526 349.8V352.4"/><path class="d" d="M528 347.0V353.1"/><path class="d" d="M529 355.1V356.1"/><path class="d" d="M530 352.0V354.2"/><path class="d" d="M532 354.7V356.8"/><path class="u" d="M533 350.5V353.7"/><path class="d" d="M535 351.7V355.7"/><path class="u" d="M536 348.4V352.7"/><path class="d" d="M537 344.2V348.1"/><path class="u" d="M539 342.1V345.8"/><path class="u" d="M540 338.1V344.4"/><path class="u" d="M542 341.7V346.1"/><path class="d" d="M543 345.4V350.3"/><path class="d" d="M544 345.5V355.9"/><path class="d" d="M546 347.9V352.9"/><path class="d" d="M547 351.8V355.9"/><path class="d" d="M549 357.2V363.7"/><path class="u" d="M550 351.2V360.6"/><path class="u" d="M551 347.3V354.4"/><path class="u" d="M553 340.6V347.9"/><path class="u" d="M554 333.6V340.9"/><path class="u" d="M556 330.1V334.9"/><path class="u" d="M557 328.4V336.0"/><path class="d" d="M558 328.2V331.9"/><path class="d" d="M560 329.6V335.1"/><path class="u" d="M561 328.0V335.3"/><path class="u" d="M563 326.9V327.9"/><path class="d" d="M564 330.2V331.6"/><path class="d" d="M565 331.2V333.7"/><path class="d" d="M567 333.1V345.3"/><path class="d" d="M568 331.6V335.3"/><path class="u" d="M570 332.8V339.5"/><path class="d" d="M571 319.5V333.1"/><path class="d" d="M572 313.7V325.9"/><path class="d" d="M574 311.0V317.0"/><path class="u" d="M575 300.5V308.4"/><path class="u" d="M577 297.8V305.4"/><path class="u" d="M578 298.2V299.8"/><path class="u" d="M579 297.4V301.5"/><path class="u" d="M581 295.3V303.1"/><path class="u" d="M582 290.5V298.7"/><path class="d" d="M584 295.4V299.3"/><path class="u" d="M585 292.5V304.1"/><path class="u" d="M586 301.8V308.1"/><path class="u" d="M588 305.7V314.0"/><path class="d" d="M589 312.3V319.3"/><path class="u" d="M591 311.1V312.1"/><path class="u" d="M592 308.1V314.0"/><path class="u" d="M593 290.6V301.0"/><path class="u" d="M595 282.8V293.0"/><path class="u" d="M596 277.5V282.3"/><path class="u" d="M598 274.6V279.4"/><path class="u" d="M599 269.8V274.6"/><path class="d" d="M600 266.4V274.2"/><path class="u" d="M602 261.9V265.6"/><path class="u" d="M603 262.1V266.3"/><path class="u" d="M605 255.6V258.4"/><path class="u" d="M606 257.7V264.6"/><path class="u" d="M607 253.6V264.8"/><path class="u" d="M609 250.3V255.4"/><path class="u" d="M610 242.6V251.1"/><path class="u" d="M612 249.1V258.6"/><path class="u" d="M613 237.7V244.9"/><path class="u" d="M614 228.5V238.2"/><path class="u" d="M616 221.4V229.7"/><path class="u" d="M617 211.2V219.0"/><path class="u" d="M619 200.6V210.6"/><path class="u" d="M620 189.7V203.6"/><path class="u" d="M621 181.1V192.9"/><path class="d" d="M623 173.2V204.6"/><path class="u" d="M624 162.0V190.7"/><path class="d" d="M626 169.0V183.0"/><path class="d" d="M627 156.3V168.5"/><path class="u" d="M628 163.0V174.7"/><path class="u" d="M630 142.0V152.6"/><path class="u" d="M631 153.6V156.4"/><path class="d" d="M633 148.3V160.7"/><path class="d" d="M634 160.2V173.5"/><path class="d" d="M635 168.8V177.5"/><path class="d" d="M637 178.8V182.8"/><path class="d" d="M638 171.6V189.4"/><path class="u" d="M640 172.0V174.1"/><path class="u" d="M641 160.1V173.5"/><path class="d" d="M642 149.2V168.1"/><path class="u" d="M644 151.1V171.1"/><path class="u" d="M645 150.2V161.6"/><path class="d" d="M647 155.3V170.4"/><path class="d" d="M648 161.5V176.9"/><path class="d" d="M649 184.7V197.5"/><path class="d1" d="M651.5 191.0V197.5"/><path class="d1" d="M652.5 182.8V206.1"/><path class="d1" d="M653.5 182.6V200.2"/><path class="d1" d="M654.5 192.0V195.1"/><path class="d1" d="M655.5 193.2V215.1"/><path class="d1" d="M656.5 204.6V209.3"/><path class="u1" d="M657.5 190.9V200.1"/><path class="u1" d="M658.5 180.4V196.1"/><path class="d1" d="M659.5 181.2V193.3"/><path class="d1" d="M660.5 176.8V192.9"/><path class="d1" d="M661.5 197.0V211.9"/><path class="d1" d="M662.5 206.7V222.6"/><path class="d1" d="M663.5 217.6V236.9"/><path class="d1" d="M664.5 239.4V258.0"/><path class="d1" d="M665.5 247.4V249.7"/><path class="u1" d="M666.5 248.6V266.1"/><path class="d1" d="M667.5 253.5V260.5"/><path class="u1" d="M668.5 233.6V247.8"/><path class="d1" d="M669.5 229.3V241.5"/><path class="u1" d="M670.5 219.3V243.7"/><path class="u1" d="M671.5 223.5V236.2"/><path class="u1" d="M672.5 212.1V220.3"/><path class="d1" d="M673.5 204.9V215.1"/><path class="u1" d="M674.5 208.2V215.3"/><path class="u1" d="M675.5 186.5V207.3"/><path class="d1" d="M676.5 190.8V195.7"/><path class="d1" d="M677.5 190.6V211.2"/><path class="u1" d="M678.5 201.1V207.3"/><path class="d1" d="M679.5 210.2V216.9"/><path class="d1" d="M680.5 210.6V217.2"/><path class="d1" d="M681.5 221.2V233.4"/><path class="d1" d="M682.5 236.6V247.8"/><path class="d1" d="M683.5 248.8V260.0"/><path class="u1" d="M684.5 249.8V250.8"/><path class="u1" d="M685.5 227.9V252.6"/><path class="u1" d="M686.5 218.8V249.8"/><path class="d1" d="M688.5 232.3V241.3"/><path class="u1" d="M689.5 238.4V240.0"/><path class="d1" d="M690.5 244.7V253.4"/><path class="d1" d="M691.5 249.6V258.5"/><path class="d1" d="M692.5 257.0V266.0"/><path class="d1" d="M693.5 261.9V267.6"/><path class="u1" d="M694.5 259.9V265.3"/><path class="d1" d="M695.5 257.5V261.1"/><path class="u1" d="M696.5 238.0V259.3"/><path class="u1" d="M697.5 238.4V249.5"/><path class="u1" d="M698.5 227.1V241.6"/><path class="u1" d="M699.5 209.1V223.5"/><path class="d1" d="M700.5 198.1V221.8"/><path class="u1" d="M701.5 199.1V206.5"/><path class="u1" d="M702.5 188.2V207.4"/><path class="u1" d="M703.5 202.6V204.5"/><path class="d1" d="M704.5 196.4V212.7"/><path class="d1" d="M705.5 187.0V208.1"/><path class="d1" d="M706.5 203.6V207.8"/><path class="d1" d="M707.5 200.2V203.8"/><path class="u1" d="M708.5 193.1V200.0"/><path class="u1" d="M709.5 182.9V189.6"/><path class="u1" d="M710.5 177.2V191.2"/><path class="d1" d="M711.5 171.6V182.3"/><path class="u1" d="M712.5 161.6V171.2"/><path class="u1" d="M713.5 160.8V164.5"/><path class="u1" d="M714.5 173.2V178.2"/><path class="d1" d="M715.5 183.1V188.1"/><path class="d1" d="M716.5 167.6V196.0"/><path class="d1" d="M717.5 174.5V195.3"/><path class="u1" d="M718.5 182.0V193.9"/><path class="d1" d="M719.5 195.1V202.1"/><path class="d1" d="M720.5 188.6V213.3"/><path class="d1" d="M721.5 199.0V209.5"/><path class="d1" d="M722.5 198.8V204.1"/><path class="u1" d="M723.5 195.6V197.6"/><path class="d1" d="M724.5 200.2V205.6"/><path class="u1" d="M725.5 193.0V206.6"/><path class="d1" d="M726.5 185.6V204.7"/><path class="u1" d="M727.5 176.4V185.9"/><path class="u1" d="M728.5 180.5V187.9"/><path class="u1" d="M729.5 171.3V179.3"/><path class="u1" d="M730.5 177.5V183.1"/><path class="d1" d="M731.5 182.3V201.4"/><path class="d1" d="M732.5 190.4V199.1"/><path class="d1" d="M733.5 190.6V213.7"/><path class="u1" d="M734.5 208.1V216.4"/><path class="u1" d="M735.5 213.3V221.6"/><path class="u1" d="M736.5 220.3V240.5"/><path class="d1" d="M737.5 233.5V243.4"/><path class="d1" d="M739.5 233.1V250.4"/><path class="d1" d="M740.5 245.6V253.9"/><path class="u1" d="M741.5 249.2V252.3"/><path class="d1" d="M742.5 255.0V258.0"/><path class="d1" d="M743.5 259.1V262.1"/><path class="d1" d="M744.5 253.4V266.1"/><path class="d1" d="M745.5 248.7V266.0"/><path class="d1" d="M746.5 253.5V265.0"/><path class="d1" d="M747.5 246.7V259.4"/><path class="u1" d="M748.5 248.9V255.2"/><path class="u1" d="M749.5 238.3V263.5"/><path class="d1" d="M750.5 230.7V240.4"/><path class="u1" d="M751.5 226.6V236.2"/><path class="u1" d="M752.5 220.5V229.8"/><path class="d1" d="M753.5 209.9V220.5"/><path class="d1" d="M754.5 203.8V216.9"/><path class="u1" d="M755.5 203.9V215.4"/><path class="u1" d="M756.5 200.2V211.0"/><path class="u1" d="M757.5 192.8V211.4"/><path class="u1" d="M758.5 195.5V200.5"/><path class="u1" d="M759.5 189.7V197.1"/><path class="u1" d="M760.5 188.7V210.4"/><path class="d1" d="M761.5 203.0V207.8"/><path class="u1" d="M762.5 200.2V201.6"/><path class="d1" d="M763.5 198.1V209.9"/><path class="d1" d="M764.5 196.7V209.4"/><path class="d1" d="M765.5 204.2V224.3"/><path class="u1" d="M766.5 206.2V215.9"/><path class="d1" d="M767.5 218.7V223.9"/><path class="u1" d="M768.5 212.7V235.7"/><path class="u1" d="M769.5 225.0V238.5"/><path class="u1" d="M770.5 226.3V244.2"/><path class="d1" d="M771.5 228.5V247.4"/><path class="d1" d="M772.5 233.7V242.5"/><path class="d1" d="M773.5 236.4V242.7"/><path class="u1" d="M774.5 234.5V244.4"/><path class="u1" d="M775.5 239.0V240.5"/><path class="d1" d="M776.5 240.1V250.1"/><path class="d1" d="M777.5 250.3V257.5"/><path class="d1" d="M778.5 257.1V265.7"/><path class="d1" d="M779.5 262.7V268.5"/><path class="d1" d="M780.5 268.7V274.5"/><path class="d1" d="M781.5 268.9V283.4"/><path class="d1" d="M782.5 273.0V290.4"/><path class="d1" d="M783.5 278.8V290.2"/><path class="d1" d="M784.5 278.6V293.4"/><path class="d1" d="M785.5 288.7V301.2"/><path class="d1" d="M786.5 294.1V302.8"/><path class="d1" d="M787.5 298.7V303.2"/><path class="d1" d="M788.5 298.7V318.6"/><path class="d1" d="M790.5 308.5V315.1"/><path class="d1" d="M791.5 318.2V324.8"/><path class="d1" d="M792.5 324.9V331.5"/><path class="u1" d="M793.5 322.3V332.0"/><path class="u1" d="M794.5 334.5V339.2"/><path class="u1" d="M795.5 337.0V341.7"/><path class="d1" d="M796.5 333.9V337.5"/><path class="d1" d="M797.5 326.6V333.0"/><path class="u1" d="M798.5 318.1V335.4"/><path class="d1" d="M799.5 318.4V328.0"/><path class="d1" d="M800.5 313.0V326.8"/><path class="u1" d="M801.5 316.3V325.4"/><path class="d1" d="M802.5 317.7V327.1"/><path class="d1" d="M803.5 318.2V328.8"/><path class="d1" d="M804.5 315.0V324.8"/><path class="d1" d="M805.5 322.5V323.5"/><path class="d1" d="M806.5 316.6V319.8"/><path class="d1" d="M807.5 319.1V320.1"/><path class="d1" d="M808.5 321.0V328.9"/><path class="d1" d="M809.5 318.7V339.7"/><path class="d1" d="M810.5 327.4V331.8"/><path class="d1" d="M811.5 334.4V338.8"/><path class="d1" d="M812.5 340.6V344.7"/><path class="u1" d="M813.5 335.9V339.3"/><path class="u1" d="M814.5 335.4V337.6"/><path class="d1" d="M815.5 331.2V336.6"/><path class="u1" d="M816.5 325.0V341.8"/><path class="u1" d="M817.5 331.7V345.8"/><path class="u1" d="M818.5 330.4V340.8"/><path class="u1" d="M819.5 342.0V344.3"/><path class="d1" d="M820.5 337.8V349.8"/><path class="u1" d="M821.5 346.4V355.5"/><path class="d1" d="M822.5 346.1V360.9"/><path class="u1" d="M823.5 355.7V362.1"/><path class="d1" d="M824.5 355.2V362.8"/><path class="d1" d="M825.5 366.1V369.4"/><path class="u1" d="M826.5 366.6V369.9"/><path class="u1" d="M827.5 366.1V373.1"/><path class="d1" d="M828.5 361.6V366.9"/><path class="u1" d="M829.5 353.3V358.6"/><path class="u1" d="M830.5 352.1V357.4"/><path class="u1" d="M831.5 338.4V362.7"/><path class="u1" d="M832.5 346.8V353.5"/><path class="u1" d="M833.5 351.4V359.3"/><path class="u1" d="M834.5 351.8V359.2"/><path class="d1" d="M835.5 361.0V370.2"/><path class="u1" d="M836.5 361.3V364.4"/><path class="d1" d="M837.5 365.1V367.3"/><path class="d1" d="M838.5 363.4V366.2"/><path class="u1" d="M839.5 364.3V369.6"/><path class="d1" d="M841.5 366.4V371.3"/><path class="d1" d="M842.5 361.7V374.7"/><path class="u1" d="M843.5 363.2V367.3"/><path class="u1" d="M844.5 360.4V362.7"/><path class="d1" d="M845.5 355.9V363.7"/><path class="d1" d="M846.5 355.3V361.0"/><path class="u1" d="M847.5 349.7V360.8"/><path class="u1" d="M848.5 344.6V355.5"/><path class="u1" d="M849.5 343.4V350.9"/><path class="u1" d="M850.5 343.8V356.8"/><path class="u1" d="M851.5 341.0V345.7"/><path class="d1" d="M852.5 339.3V342.0"/><path class="u1" d="M853.5 334.4V337.7"/><path class="u1" d="M854.5 330.4V342.4"/><path class="u1" d="M855.5 332.9V338.6"/><path class="u1" d="M856.5 328.4V332.2"/><path class="d1" d="M857.5 325.3V334.5"/><path class="d1" d="M858.5 325.5V329.4"/><path class="u1" d="M859.5 322.6V328.8"/><path class="u1" d="M860.5 327.7V333.2"/><path class="u1" d="M861.5 324.5V330.7"/><path class="u1" d="M862.5 324.2V327.2"/><path class="d1" d="M863.5 324.8V327.4"/><path class="u1" d="M864.5 316.6V327.8"/><path class="u1" d="M865.5 315.1V323.3"/><path class="u1" d="M866.5 317.4V327.0"/><path class="d1" d="M867.5 322.5V331.4"/><path class="d1" d="M868.5 322.8V334.7"/><path class="d1" d="M869.5 332.2V340.0"/><path class="d1" d="M870.5 332.1V348.0"/><path class="d1" d="M871.5 340.6V345.2"/><path class="d1" d="M872.5 341.0V345.5"/><path class="u1" d="M873.5 343.2V346.1"/><path class="d1" d="M874.5 340.8V343.8"/><path class="u1" d="M875.5 333.2V339.0"/><path class="u1" d="M876.5 332.3V337.7"/><path class="d1" d="M877.5 331.7V338.6"/><path class="d1" d="M878.5 335.7V344.6"/><path class="d1" d="M879.5 345.8V356.8"/><path class="d1" d="M880.5 352.5V360.0"/><path class="d1" d="M881.5 355.7V359.6"/><path class="d1" d="M882.5 357.7V364.1"/><path class="d1" d="M883.5 361.8V364.8"/><path class="d1" d="M884.5 368.6V372.0"/><path class="u1" d="M885.5 364.3V369.5"/><path class="u1" d="M886.5 361.9V367.6"/><path class="u1" d="M887.5 357.9V364.6"/><path class="u1" d="M888.5 347.2V353.8"/><path class="u1" d="M889.5 350.9V353.9"/><path class="u1" d="M890.5 342.8V353.0"/><path class="u1" d="M892.5 351.2V355.7"/><path class="u1" d="M893.5 355.3V357.1"/><path class="u1" d="M894.5 354.6V356.5"/><path class="d1" d="M895.5 354.6V361.3"/><path class="d1" d="M896.5 355.9V363.5"/><path class="d1" d="M897.5 364.0V367.1"/><path class="u1" d="M898.5 365.8V369.4"/><path class="u1" d="M899.5 367.6V370.7"/><path class="d1" d="M900.5 365.7V369.2"/><path class="u1" d="M901.5 357.7V363.2"/><path class="u1" d="M902.5 354.8V360.3"/><path class="u1" d="M903.5 347.0V357.6"/><path class="d1" d="M904.5 353.6V361.1"/><path class="d1" d="M905.5 362.7V366.2"/><path class="d1" d="M906.5 360.5V365.6"/><path class="d1" d="M907.5 371.3V383.0"/><path class="d1" d="M908.5 380.5V391.9"/><path class="u1" d="M909.5 390.5V396.6"/><path class="d1" d="M910.5 392.1V395.7"/><path class="u1" d="M911.5 394.1V399.4"/><path class="u1" d="M912.5 393.7V394.8"/><path class="u1" d="M913.5 394.2V395.8"/><path class="d1" d="M914.5 388.1V395.1"/><path class="u1" d="M915.5 370.5V382.0"/><path class="u1" d="M916.5 366.1V375.3"/><path class="u1" d="M917.5 360.6V366.2"/><path class="u1" d="M918.5 355.3V361.3"/><path class="d1" d="M919.5 347.1V356.3"/><path class="u1" d="M920.5 341.5V350.2"/><path class="u1" d="M921.5 342.2V345.4"/><path class="d1" d="M922.5 345.8V350.2"/><path class="u1" d="M923.5 348.4V359.1"/><path class="u1" d="M924.5 349.4V350.9"/><path class="u1" d="M925.5 346.4V350.2"/><path class="d1" d="M926.5 348.4V355.6"/><path class="d1" d="M927.5 343.9V347.3"/><path class="u1" d="M928.5 341.9V349.9"/><path class="d1" d="M929.5 339.6V346.4"/><path class="u1" d="M930.5 347.7V350.5"/><path class="u1" d="M931.5 347.1V349.8"/><path class="d1" d="M932.5 348.1V350.0"/><path class="u1" d="M933.5 343.4V354.4"/><path class="d1" d="M934.5 353.7V359.2"/><path class="u1" d="M935.5 346.9V352.7"/><path class="u1" d="M936.5 353.9V354.9"/><path class="d1" d="M937.5 345.9V353.0"/><path class="d1" d="M938.5 340.6V353.1"/><path class="d1" d="M939.5 344.8V348.5"/><path class="u1" d="M940.5 340.2V349.1"/><path class="u1" d="M941.5 336.3V344.3"/><path class="d1" d="M943.5 325.1V337.0"/><path class="d1" d="M944.5 332.6V338.4"/><path class="u1" d="M945.5 337.9V342.2"/><path class="u1" d="M946.5 342.9V347.2"/><path class="d1" d="M947.5 347.6V355.1"/><path class="d1" d="M948.5 349.1V358.9"/><path class="d1" d="M949.5 350.9V359.7"/><path class="d1" d="M950.5 351.4V359.2"/><path class="d1" d="M951.5 355.0V360.4"/><path class="d1" d="M952.5 347.5V357.6"/><path class="u1" d="M953.5 343.5V348.8"/><path class="u1" d="M954.5 341.4V346.7"/><path class="u1" d="M955.5 334.3V339.9"/><path class="d1" d="M956.5 333.8V346.0"/><path class="d1" d="M957.5 331.7V346.4"/><path class="d1" d="M958.5 340.4V354.2"/><path class="d1" d="M959.5 348.9V356.5"/><path class="d1" d="M960.5 352.3V357.9"/><path class="d1" d="M961.5 361.9V366.2"/><path class="u1" d="M962.5 359.1V362.8"/><path class="u1" d="M963.5 359.6V364.4"/><path class="u1" d="M964.5 361.1V374.6"/><path class="u1" d="M965.5 360.1V364.3"/><path class="d1" d="M966.5 359.5V361.0"/><path class="d1" d="M967.5 357.4V359.0"/><path class="d1" d="M968.5 354.0V358.8"/><path class="u1" d="M969.5 351.0V357.0"/><path class="u1" d="M970.5 342.2V354.7"/><path class="d1" d="M971.5 340.4V356.9"/><path class="d1" d="M972.5 344.6V356.8"/><path class="u1" d="M973.5 353.1V360.1"/><path class="d1" d="M974.5 356.5V364.5"/><path class="d1" d="M975.5 364.9V370.3"/><path class="u1" d="M976.5 362.5V370.4"/><path class="u1" d="M977.5 361.1V374.7"/><path class="d1" d="M978.5 357.2V369.9"/><path class="u1" d="M979.5 356.4V368.7"/><path class="u1" d="M980.5 362.6V363.6"/><path class="d1" d="M981.5 363.2V368.5"/><path class="d1" d="M982.5 361.1V363.5"/><path class="u1" d="M983.5 365.9V371.6"/><path class="u1" d="M984.5 366.7V374.1"/><path class="u1" d="M985.5 372.1V375.7"/><path class="u1" d="M986.5 366.2V371.0"/><path class="u1" d="M987.5 361.2V374.8"/><path class="u1" d="M988.5 360.6V369.5"/><path class="d1" d="M989.5 354.9V363.9"/><path class="u1" d="M990.5 354.8V359.4"/><path class="u1" d="M991.5 352.6V357.1"/><path class="u1" d="M992.5 343.2V355.1"/><path class="d1" d="M994.5 348.0V352.6"/><path class="d1" d="M995.5 351.7V360.3"/><path class="d1" d="M996.5 352.5V358.5"/><path class="d1" d="M997.5 348.3V364.8"/><path class="u1" d="M998.5 359.2V361.5"/><path class="u1" d="M999.5 357.5V359.8"/><path class="u1" d="M1000.5 363.6V365.5"/><path class="d1" d="M1001.5 365.9V368.9"/><path class="d1" d="M1002.5 362.1V372.7"/><path class="u1" d="M1003.5 358.6V372.1"/><path class="d1" d="M1004.5 365.3V368.9"/><path class="d1" d="M1005.5 369.4V373.9"/><path class="u1" d="M1006.5 369.5V376.6"/><path class="u1" d="M1007.5 369.4V372.3"/><path class="u1" d="M1008.5 363.2V374.5"/><path class="u1" d="M1009.5 359.4V365.6"/><path class="u1" d="M1010.5 359.5V360.8"/><path class="u1" d="M1011.5 358.5V366.6"/><path class="d1" d="M1012.5 361.3V364.2"/><path class="d1" d="M1013.5 366.7V369.9"/><path class="d1" d="M1014.5 364.6V374.7"/><path class="u1" d="M1015.5 367.3V377.1"/><path class="d1" d="M1016.5 368.4V388.5"/><path class="d1" d="M1017.5 375.4V382.9"/><path class="d1" d="M1018.5 386.7V391.2"/><path class="u1" d="M1019.5 392.3V398.6"/><path class="d1" d="M1020.5 395.7V402.5"/><path class="d1" d="M1021.5 399.1V408.2"/><path class="u1" d="M1022.5 407.2V413.0"/><path class="d1" d="M1023.5 406.1V416.7"/><path class="d1" d="M1024.5 413.3V417.7"/><path class="d1" d="M1025.5 419.0V423.3"/><path class="u1" d="M1026.5 422.2V425.3"/><path class="d1" d="M1027.5 425.1V428.2"/><path class="d1" d="M1028.5 429.2V432.3"/><path class="d1" d="M1029.5 427.4V428.9"/><path class="d1" d="M1030.5 430.0V432.8"/><path class="u1" d="M1031.5 425.0V429.4"/><path class="u1" d="M1032.5 418.3V423.7"/><path class="d1" d="M1033.5 415.1V418.6"/><path class="d1" d="M1034.5 415.9V418.1"/><path class="u1" d="M1035.5 413.3V418.9"/><path class="d1" d="M1036.5 410.5V415.3"/><path class="u1" d="M1037.5 407.7V415.7"/><path class="u1" d="M1038.5 403.3V418.5"/><path class="u1" d="M1039.5 404.9V409.2"/><path class="u1" d="M1040.5 397.1V406.0"/><path class="u1" d="M1041.5 399.5V408.0"/><path class="d1" d="M1042.5 404.7V410.1"/><path class="d1" d="M1043.5 402.8V415.4"/><path class="u1" d="M1045.5 401.8V415.2"/><path class="u1" d="M1046.5 408.6V413.1"/><path class="u1" d="M1047.5 402.0V407.7"/><path class="u1" d="M1048.5 397.5V400.5"/><path class="u1" d="M1049.5 397.5V402.1"/><path class="d1" d="M1050.5 393.7V401.4"/><path class="d1" d="M1051.5 400.3V403.7"/><path class="d1" d="M1052.5 401.2V409.9"/><path class="u1" d="M1053.5 398.4V402.9"/><path class="u1" d="M1054.5 392.4V397.0"/><path class="u1" d="M1055.5 391.4V394.9"/><path class="d1" d="M1056.5 385.8V389.3"/><path class="d1" d="M1057.5 387.1V389.6"/><path class="u1" d="M1058.5 383.8V385.9"/><path class="u1" d="M1059.5 379.0V386.2"/><path class="u1" d="M1060.5 376.5V388.3"/><path class="u1" d="M1061.5 377.6V386.8"/><path class="u1" d="M1062.5 378.6V379.7"/><path class="u1" d="M1063.5 377.9V382.9"/><path class="d1" d="M1064.5 379.8V384.8"/><path class="d1" d="M1065.5 375.2V386.2"/><path class="d1" d="M1066.5 380.5V390.6"/><path class="d1" d="M1067.5 385.6V389.0"/><path class="u1" d="M1068.5 384.7V389.6"/><path class="u1" d="M1069.5 383.3V386.5"/><path class="d1" d="M1070.5 378.5V380.8"/><path class="u1" d="M1071.5 381.1V385.4"/><path class="d1" d="M1072.5 381.0V387.7"/><path class="u1" d="M1073.5 382.1V384.0"/>
</g>
<polyline points="73.7,463.5 74.7,462.2 75.7,461.4 76.7,461.1 77.7,463.4 78.7,463.5 79.7,462.5 80.7,464.5 81.7,465.9 82.7,465.9 83.7,465.5 84.7,467.6 85.7,469.6 86.7,471.4 87.7,471.4 88.7,475.0 89.7,476.2 90.7,476.2 91.7,477.2 92.7,476.0 93.7,477.7 94.7,475.3 95.7,475.4 96.7,476.5 97.7,477.4 98.7,474.7 99.7,475.1 100.7,474.5 101.7,475.8 102.7,474.8 103.7,475.0 104.7,476.8 105.7,476.3 106.7,477.4 107.7,475.8 108.7,477.0 109.7,475.0 110.7,478.3 111.7,476.2 112.7,477.2 113.7,477.5 114.7,479.2 115.7,478.2 116.7,480.3 117.7,479.6 118.7,478.8 119.7,481.3 120.7,479.5 121.7,481.9 122.7,480.0 123.7,479.1 124.7,481.3 125.7,479.0 126.7,480.0 127.7,480.5 128.7,482.3 129.7,480.9 130.7,482.8 131.7,482.8 132.7,485.7 133.7,483.2 134.7,484.6 135.7,483.1 136.7,483.2 137.7,483.1 138.7,483.1 139.7,481.1 140.7,481.2 141.7,480.6 142.7,483.1 143.7,480.3 144.7,480.0 145.7,481.0 146.7,481.0 147.7,481.8 148.7,479.1 149.7,479.8 150.7,479.6 151.7,481.0 152.7,480.7 153.7,480.6 154.7,482.2 155.7,481.4 156.7,481.2 157.7,480.8 158.7,477.8 159.7,479.2 160.7,476.7 161.7,474.4 162.7,475.8 163.7,471.8 164.7,470.1 165.7,469.6 166.7,469.9 167.7,472.3 168.7,472.3 169.7,471.1 170.7,471.7 171.7,473.0 172.7,472.9 173.7,472.3 174.7,471.7 175.7,470.3 176.7,470.6 177.7,471.8 178.7,471.4 179.7,472.0 180.7,472.2 181.7,472.4 182.7,470.3 183.7,470.3 184.7,473.4 185.7,472.7 186.7,471.9 187.7,473.2 188.7,471.3 189.7,470.6 190.7,470.5 191.7,470.4 192.7,470.4 193.7,468.0 194.7,471.2 195.7,471.8 196.7,472.3 197.7,474.0 198.7,475.1 199.7,473.0 200.7,474.9 201.7,475.9 202.7,476.4 203.7,476.6 204.7,475.6 205.7,478.4 206.7,478.3 207.7,476.8 208.7,477.1 209.7,478.4 210.7,475.7 211.7,476.0 212.7,477.4 213.7,476.5 214.7,473.6 215.7,474.4 216.7,472.4 217.7,472.5 218.7,472.1 219.7,469.8 220.7,470.0 221.7,469.8 222.7,469.8 223.7,468.9 224.7,469.2 225.7,470.3 226.7,470.6 227.7,469.8 228.7,470.9 229.7,471.2 230.7,469.1 231.7,467.6 232.7,467.8 233.7,466.3 234.7,465.5 235.7,466.4 236.7,465.0 237.7,466.4 238.7,463.1 239.7,462.1 240.7,463.7 241.7,463.5 242.7,464.1 243.7,463.9 244.7,464.2 245.7,464.7 246.7,465.8 247.7,463.6 248.7,465.4 249.7,463.4 250.7,462.7 251.7,464.0 252.7,463.6 253.7,465.0 254.7,465.8 255.7,465.5 256.7,464.9 257.7,464.9 258.7,466.6 259.7,467.2 260.7,465.8 261.7,465.1 262.7,464.9 263.7,465.3 264.7,466.7 265.7,464.2 266.7,464.6 267.7,464.4 268.7,465.5 269.7,466.3 270.7,463.6 271.7,464.3 272.7,467.3 273.7,467.8 274.7,465.5 275.7,466.5 276.7,467.2 277.7,465.9 278.7,465.6 279.7,465.1 280.7,463.8 281.7,462.5 282.7,462.0 283.7,461.7 284.7,461.5 285.7,463.2 286.7,463.4 287.7,462.0 288.7,463.7 289.7,463.5 290.7,462.3 291.7,462.2 292.7,460.7 293.7,462.6 294.7,460.9 295.7,458.7 296.7,459.4 297.7,461.8 298.7,461.5 299.7,463.2 300.7,462.4 301.7,464.6 302.7,464.5 303.7,462.1 304.7,463.6 305.7,462.2 306.7,463.7 307.7,463.9 308.7,463.8 309.7,462.2 310.7,462.0 311.7,464.1 312.7,464.1 313.7,462.9 314.7,463.4 315.7,464.9 316.7,463.9 317.7,466.0 318.7,465.3 319.7,465.9 320.7,466.9 321.7,467.1 322.7,467.2 323.7,464.4 324.7,466.2 325.7,464.1 326.7,464.0 327.7,465.2 328.7,465.5 329.7,465.4 330.7,466.4 331.7,464.3 332.7,464.8 333.7,466.0 334.7,464.7 335.7,464.4 336.7,464.6 337.7,466.4 338.7,466.5 339.7,465.2 340.7,464.7 341.7,462.8 342.7,460.4 343.7,460.7 344.7,462.1 345.7,460.2 346.7,462.1 347.7,460.7 348.7,457.1 349.7,454.7 350.7,451.0 351.7,453.7 352.7,453.8 353.7,452.8 354.7,452.1 355.7,452.1 356.7,453.5 357.7,453.7 358.7,453.3 359.7,454.6 360.7,453.8 361.7,453.9 362.7,451.0 363.7,450.2 364.7,450.5 365.7,450.1 366.7,448.7 367.7,449.3 368.7,447.2 369.7,447.5 370.7,448.7 371.7,450.2 372.7,451.2 373.7,450.6 374.7,451.6 375.7,453.9 376.7,454.2 377.7,452.7 378.7,450.5 379.7,451.2 380.7,451.2 381.7,449.6 382.7,448.3 383.7,451.0 384.7,451.0 385.7,448.8 386.7,450.1 387.7,450.8 388.7,450.1 389.7,449.6 390.7,451.9 391.7,451.3 392.7,449.5 393.7,447.7 394.7,448.0 395.7,446.3 396.7,448.4 397.7,444.8 398.7,444.9 399.7,446.0 400.7,444.6 401.7,445.2 402.7,445.7 403.7,446.6 404.7,448.5 405.7,449.1 406.7,446.3 407.7,445.7 408.7,446.9 409.7,445.2 410.7,444.3 411.7,443.0 412.7,443.7 413.7,446.7 414.7,444.6 415.7,445.8 416.7,448.0 417.7,449.1 418.7,449.6 419.7,448.7 420.7,450.8 421.7,450.2 422.7,449.6 423.7,450.7 424.7,452.0 425.7,452.6 426.7,451.1 427.7,451.8 428.7,454.8 429.7,452.6 430.7,455.3 431.7,454.2 432.7,453.3 433.7,452.6 434.7,452.6 435.7,453.6 436.7,450.3 437.7,452.1 438.7,450.1 439.7,449.3 440.7,450.8 441.7,449.2 442.7,448.3 443.7,448.7 444.7,449.7 445.7,449.5 446.7,448.3 447.7,446.1 448.7,449.1 449.7,449.2 450.7,450.6 451.7,451.4 452.7,449.9 453.7,452.1 454.7,452.4 455.7,450.8 456.7,451.4 457.7,451.9 458.7,452.4 459.7,453.0 460.7,452.6 461.7,453.5 462.7,456.2 463.7,455.1 464.7,456.3 465.7,457.2 466.7,456.8 467.7,455.2 468.7,457.3 469.7,457.0 470.7,457.6 471.7,456.7 472.7,456.6 473.7,456.6 474.7,454.7 475.7,455.8 476.7,454.8 477.7,456.1 478.7,453.5 479.7,454.5 480.7,453.5 481.7,454.7 482.7,452.8 483.7,454.1 484.7,453.7 485.7,453.8 486.7,451.9 487.7,455.0 488.7,454.8 489.7,455.1 490.7,455.5 491.7,453.9 492.7,456.9 493.7,456.3 494.7,456.4 495.7,456.4 496.7,458.3 497.7,458.8 498.7,459.6 499.7,458.0 500.7,458.9 501.7,459.1 502.7,458.8 503.7,458.2 504.7,456.0 505.7,457.2 506.7,454.1 507.7,453.3 508.7,452.9 509.7,454.8 510.7,452.7 511.7,453.2 512.7,452.7 513.7,453.4 514.7,453.0 515.7,450.1 516.7,450.3 517.7,450.3 518.7,448.2 519.7,448.8 520.7,448.0 521.7,446.5 522.7,448.1 523.7,446.9 524.7,445.2 525.7,446.7 526.7,447.5 527.7,446.6 528.7,446.5 529.7,446.4 530.7,447.9 531.7,447.3 532.7,446.0 533.7,446.8 534.7,447.1 535.7,449.4 536.7,448.9 537.7,447.4 538.7,450.3 539.7,446.6 540.7,447.3 541.7,445.7 542.7,445.5 543.7,443.5 544.7,441.3 545.7,441.4 546.7,441.1 547.7,439.7 548.7,437.4 549.7,437.2 550.7,439.0 551.7,439.4 552.7,437.8 553.7,440.1 554.7,440.0 555.7,437.6 556.7,436.8 557.7,437.3 558.7,437.4 559.7,435.3 560.7,436.8 561.7,438.1 562.7,440.5 563.7,440.0 564.7,442.3 565.7,443.2 566.7,443.2 567.7,441.0 568.7,443.1 569.7,442.7 570.7,440.8 571.7,441.1 572.7,438.8 573.7,441.0 574.7,439.6 575.7,440.1 576.7,440.2 577.7,437.8 578.7,437.2 579.7,432.6 580.7,429.8 581.7,430.6 582.7,431.1 583.7,430.4 584.7,429.8 585.7,429.0 586.7,431.4 587.7,431.2 588.7,430.9 589.7,433.4 590.7,435.0 591.7,434.2 592.7,434.2 593.7,432.6 594.7,432.2 595.7,432.2 596.7,432.0 597.7,431.3 598.7,429.5 599.7,428.5 600.7,428.9 601.7,429.4 602.7,428.8 603.7,426.5 604.7,426.4 605.7,427.6 606.7,426.9 607.7,428.6 608.7,429.9 609.7,428.0 610.7,429.5 611.7,429.3 612.7,428.7 613.7,427.9 614.7,427.2 615.7,425.1 616.7,426.3 617.7,425.3 618.7,421.0 619.7,422.4 620.7,419.3 621.7,416.8 622.7,415.5 623.7,416.6 624.7,415.0 625.7,412.1 626.7,411.9 627.7,414.0 628.7,416.7 629.7,416.1 630.7,419.0 631.7,418.2 632.7,418.6 633.7,419.0 634.7,420.4 635.7,421.6 636.7,421.2 637.7,421.3 638.7,421.7 639.7,420.5 640.7,420.0 641.7,419.6 642.7,419.5 643.7,417.7 644.7,418.4 645.7,418.1 646.7,419.7 647.7,418.0 648.7,419.3 649.7,417.6 650.7,416.6 651.7,418.1 652.7,417.5 653.7,418.4 654.7,418.9 655.7,421.7 656.7,423.3 657.7,421.2 658.7,420.7 659.7,420.7 660.7,420.2 661.7,421.0 662.7,420.6 663.7,420.7 664.7,423.8 665.7,423.7 666.7,423.4 667.7,428.7 668.7,430.9 669.7,432.3" fill="none" stroke="#1a80f4" stroke-width="1.25" stroke-dasharray="2.5 0.7"/>
<polyline points="142.5,473.0 153.6,472.7 163.0,470.3 172.2,466.6 181.5,462.0 190.8,457.3 200.0,451.7 209.4,447.0 218.7,441.5 228.0,436.0 237.3,431.2 246.6,428.5 255.9,426.2 263.3,424.7 269.8,424.2 274.3,424.0 283.6,424.0 292.9,425.0 302.2,425.0 320.8,425.4 330.0,425.0 339.3,424.0 348.6,423.2 358.0,422.3 367.2,419.5 376.5,416.7 385.8,414.0 395.0,409.3 404.4,405.5 413.7,401.8 423.0,398.0 432.3,393.5 441.6,389.7 450.9,387.0 458.3,385.0 466.0,384.5 477.3,383.0 488.5,382.7 499.6,382.2 510.8,379.3 522.0,374.9 533.0,370.4 544.3,366.0 551.0,362.6 560.0,354.8 566.6,349.2 577.8,340.3 589.0,332.5 597.9,325.8 604.5,318.0 610.0,309.0 616.8,299.4 623.5,285.0 630.0,269.0 636.9,253.7 643.6,238.0 650.3,224.6 657.0,215.7 663.7,208.0 670.4,203.4 677.0,197.9 681.5,196.0 686.0,201.0 690.0,208.0 696.0,219.7 705.4,226.4 713.5,222.4 722.9,215.7 733.6,210.4 744.3,209.0 755.0,211.7 765.7,215.7 773.8,222.4 781.8,234.5 788.4,243.4 798.5,260.0 808.5,283.6 818.6,307.0 828.6,328.8 838.7,342.0 848.7,349.9 858.7,353.0 868.8,350.5 878.8,347.8 888.9,346.5 898.9,347.0 904.5,350.0 910.0,355.7 915.6,361.0 922.3,363.5 929.0,363.5 935.7,362.4 942.4,360.6 949.0,359.0 955.7,355.7 962.4,352.3 969.0,351.7 975.8,353.4 982.5,355.7 989.2,357.9 995.9,359.7 1002.6,361.0 1009.3,363.5 1015.9,365.7 1022.6,371.3 1029.3,379.0 1036.0,385.8 1042.7,391.3 1049.4,396.9 1056.0,401.4 1062.8,403.6 1068.3,404.3 1072.8,402.0" fill="none" stroke="#c00a8c" stroke-width="1" stroke-linejoin="round"/>
<polyline points="99.7,471.2 107.2,475.0 118.3,475.3 131.3,475.8 140.6,475.0 148.0,472.7 155.5,466.6 163.0,460.0 172.2,453.5 181.5,448.0 190.8,443.3 200.0,440.5 209.4,437.8 218.7,433.0 228.0,426.6 237.3,421.0 242.9,419.5 252.0,420.0 259.6,420.7 265.0,422.9 269.8,425.0 274.3,425.4 283.6,425.0 292.9,427.0 302.2,423.2 311.5,422.3 320.8,422.3 330.0,424.0 339.3,422.3 348.6,421.0 358.0,420.4 367.2,416.7 376.5,410.0 385.8,401.8 395.0,394.4 402.5,392.0 413.7,390.7 423.0,391.2 432.3,390.0 441.6,387.0 450.9,382.3 458.3,378.6 465.0,377.0 472.9,377.8 481.8,379.3 490.7,382.7 499.6,385.0 506.3,383.8 513.0,377.0 519.7,367.0 526.4,358.0 533.0,352.5 539.8,349.2 546.5,349.6 553.2,348.0 560.0,342.5 566.6,339.0 573.3,332.5 580.0,323.5 586.7,316.8 593.4,309.0 599.0,299.4 605.6,287.0 612.3,273.8 619.0,256.0 623.5,240.0 626.8,224.6 630.0,209.0 634.6,196.0 639.0,184.0 643.6,174.0 648.0,168.6 652.5,172.0 657.0,178.6 661.4,182.0 666.0,193.4 670.4,211.0 674.8,218.0 679.3,219.0 682.6,225.0 687.0,228.0 690.7,231.8 697.4,246.5 704.0,234.5 709.5,215.7 714.8,197.0 718.8,191.6 726.9,191.6 730.9,194.3 736.3,205.0 743.0,223.8 749.6,241.0 756.3,238.5 761.7,223.8 767.0,211.7 772.4,214.4 777.8,229.0 783.0,247.9 785.0,263.5 791.8,287.0 798.5,310.3 805.2,323.7 815.2,330.4 823.6,337.0 830.3,352.0 837.0,359.0 845.3,362.0 853.7,357.0 862.0,342.0 870.5,334.5 877.0,337.0 883.8,347.0 890.5,355.5 897.2,359.0 904.0,362.0 910.0,368.0 914.5,374.6 920.0,371.3 925.6,366.8 930.0,356.8 935.7,351.0 941.2,347.9 945.7,346.8 950.2,350.0 955.7,346.8 961.3,350.0 965.8,353.4 971.3,353.4 976.9,360.0 982.5,363.5 988.0,364.6 993.6,360.0 999.2,359.0 1004.8,361.0 1010.4,363.5 1015.9,368.0 1021.5,378.0 1026.0,391.3 1030.4,407.0 1034.9,415.9 1039.4,418.0 1043.8,417.0 1048.3,411.4 1053.8,403.6 1059.4,396.9 1065.0,391.3 1069.5,386.9 1072.8,384.7" fill="none" stroke="#0a9a22" stroke-width="1" stroke-linejoin="round"/>
<circle cx="629.7" cy="139.1" r="20" fill="none" stroke="#12a612" stroke-width="1.15"/>
<circle cx="713.2" cy="159.5" r="23" fill="none" stroke="#9c9078" stroke-width="1"/>
<line x1="73.5" x2="73.5" y1="111.5" y2="518.5" stroke="#1e6fe0" stroke-width="1.4"/>
<line x1="1088.5" x2="1088.5" y1="111.5" y2="518.5" stroke="#e8e8e8" stroke-width="1.2"/>
<line x1="73.0" x2="1089.0" y1="518.5" y2="518.5" stroke="#e8e8e8" stroke-width="1.2"/>
<path d="M73.5 145.7L68.5 148.5L73.5 151.3Z" fill="#1e78f0"/>
<path d="M73.5 194.5L68.5 197.3L73.5 200.1Z" fill="#1e78f0"/>
<path d="M73.5 243.2L68.5 246.0L73.5 248.8Z" fill="#1e78f0"/>
<path d="M73.5 292.0L68.5 294.8L73.5 297.6Z" fill="#1e78f0"/>
<path d="M73.5 340.8L68.5 343.6L73.5 346.4Z" fill="#1e78f0"/>
<path d="M73.5 389.6L68.5 392.4L73.5 395.2Z" fill="#1e78f0"/>
<path d="M73.5 438.3L68.5 441.1L73.5 443.9Z" fill="#1e78f0"/>
<path d="M73.5 487.1L68.5 489.9L73.5 492.7Z" fill="#1e78f0"/>
<line x1="71.0" x2="73.5" y1="124.1" y2="124.1" stroke="#1e6fe0" stroke-width="1"/>
<line x1="71.0" x2="73.5" y1="172.9" y2="172.9" stroke="#1e6fe0" stroke-width="1"/>
<line x1="71.0" x2="73.5" y1="221.6" y2="221.6" stroke="#1e6fe0" stroke-width="1"/>
<line x1="71.0" x2="73.5" y1="270.4" y2="270.4" stroke="#1e6fe0" stroke-width="1"/>
<line x1="71.0" x2="73.5" y1="319.2" y2="319.2" stroke="#1e6fe0" stroke-width="1"/>
<line x1="71.0" x2="73.5" y1="367.9" y2="367.9" stroke="#1e6fe0" stroke-width="1"/>
<line x1="71.0" x2="73.5" y1="416.7" y2="416.7" stroke="#1e6fe0" stroke-width="1"/>
<line x1="71.0" x2="73.5" y1="465.5" y2="465.5" stroke="#1e6fe0" stroke-width="1"/>
<line x1="71.0" x2="73.5" y1="514.3" y2="514.3" stroke="#1e6fe0" stroke-width="1"/>
<path d="M1088.5 121.8L1093.5 124.6L1088.5 127.4Z" fill="#f0f0f0"/>
<path d="M1088.5 180.9L1093.5 183.7L1088.5 186.5Z" fill="#f0f0f0"/>
<path d="M1088.5 240.0L1093.5 242.8L1088.5 245.6Z" fill="#f0f0f0"/>
<path d="M1088.5 299.1L1093.5 301.9L1088.5 304.7Z" fill="#f0f0f0"/>
<path d="M1088.5 358.2L1093.5 361.0L1088.5 363.8Z" fill="#f0f0f0"/>
<path d="M1088.5 417.3L1093.5 420.1L1088.5 422.9Z" fill="#f0f0f0"/>
<path d="M1088.5 476.4L1093.5 479.2L1088.5 482.0Z" fill="#f0f0f0"/>
<line x1="1088.5" x2="1091.0" y1="154.2" y2="154.2" stroke="#e8e8e8" stroke-width="1"/>
<line x1="1088.5" x2="1091.0" y1="213.2" y2="213.2" stroke="#e8e8e8" stroke-width="1"/>
<line x1="1088.5" x2="1091.0" y1="272.4" y2="272.4" stroke="#e8e8e8" stroke-width="1"/>
<line x1="1088.5" x2="1091.0" y1="331.5" y2="331.5" stroke="#e8e8e8" stroke-width="1"/>
<line x1="1088.5" x2="1091.0" y1="390.6" y2="390.6" stroke="#e8e8e8" stroke-width="1"/>
<line x1="1088.5" x2="1091.0" y1="449.7" y2="449.7" stroke="#e8e8e8" stroke-width="1"/>
<line x1="1088.5" x2="1091.0" y1="508.8" y2="508.8" stroke="#e8e8e8" stroke-width="1"/>
<line x1="92.0" x2="92.0" y1="518.5" y2="521.0" stroke="#e0e0e0" stroke-width="1"/>
<line x1="121.3" x2="121.3" y1="518.5" y2="521.0" stroke="#e0e0e0" stroke-width="1"/>
<line x1="151.6" x2="151.6" y1="518.5" y2="521.0" stroke="#e0e0e0" stroke-width="1"/>
<line x1="180.0" x2="180.0" y1="518.5" y2="521.0" stroke="#e0e0e0" stroke-width="1"/>
<line x1="209.5" x2="209.5" y1="518.5" y2="521.0" stroke="#e0e0e0" stroke-width="1"/>
<line x1="237.0" x2="237.0" y1="518.5" y2="521.0" stroke="#e0e0e0" stroke-width="1"/>
<line x1="265.8" x2="265.8" y1="518.5" y2="521.0" stroke="#e0e0e0" stroke-width="1"/>
<line x1="295.5" x2="295.5" y1="518.5" y2="521.0" stroke="#e0e0e0" stroke-width="1"/>
<line x1="324.0" x2="324.0" y1="518.5" y2="521.0" stroke="#e0e0e0" stroke-width="1"/>
<line x1="354.0" x2="354.0" y1="518.5" y2="521.0" stroke="#e0e0e0" stroke-width="1"/>
<line x1="384.6" x2="384.6" y1="518.5" y2="521.0" stroke="#e0e0e0" stroke-width="1"/>
<line x1="414.0" x2="414.0" y1="518.5" y2="521.0" stroke="#e0e0e0" stroke-width="1"/>
<line x1="444.0" x2="444.0" y1="518.5" y2="521.0" stroke="#e0e0e0" stroke-width="1"/>
<line x1="473.5" x2="473.5" y1="518.5" y2="521.0" stroke="#e0e0e0" stroke-width="1"/>
<line x1="503.0" x2="503.0" y1="518.5" y2="521.0" stroke="#e0e0e0" stroke-width="1"/>
<line x1="533.4" x2="533.4" y1="518.5" y2="521.0" stroke="#e0e0e0" stroke-width="1"/>
<line x1="562.7" x2="562.7" y1="518.5" y2="521.0" stroke="#e0e0e0" stroke-width="1"/>
<line x1="591.6" x2="591.6" y1="518.5" y2="521.0" stroke="#e0e0e0" stroke-width="1"/>
<line x1="619.8" x2="619.8" y1="518.5" y2="521.0" stroke="#e0e0e0" stroke-width="1"/>
<line x1="650.6" x2="650.6" y1="518.5" y2="521.0" stroke="#e0e0e0" stroke-width="1"/>
<line x1="675.5" x2="675.5" y1="518.5" y2="521.0" stroke="#e0e0e0" stroke-width="1"/>
<line x1="698.6" x2="698.6" y1="518.5" y2="521.0" stroke="#e0e0e0" stroke-width="1"/>
<line x1="719.6" x2="719.6" y1="518.5" y2="521.0" stroke="#e0e0e0" stroke-width="1"/>
<line x1="740.4" x2="740.4" y1="518.5" y2="521.0" stroke="#e0e0e0" stroke-width="1"/>
<line x1="761.0" x2="761.0" y1="518.5" y2="521.0" stroke="#e0e0e0" stroke-width="1"/>
<line x1="783.0" x2="783.0" y1="518.5" y2="521.0" stroke="#e0e0e0" stroke-width="1"/>
<line x1="804.6" x2="804.6" y1="518.5" y2="521.0" stroke="#e0e0e0" stroke-width="1"/>
<line x1="825.0" x2="825.0" y1="518.5" y2="521.0" stroke="#e0e0e0" stroke-width="1"/>
<line x1="846.0" x2="846.0" y1="518.5" y2="521.0" stroke="#e0e0e0" stroke-width="1"/>
<line x1="865.8" x2="865.8" y1="518.5" y2="521.0" stroke="#e0e0e0" stroke-width="1"/>
<line x1="886.8" x2="886.8" y1="518.5" y2="521.0" stroke="#e0e0e0" stroke-width="1"/>
<line x1="909.0" x2="909.0" y1="518.5" y2="521.0" stroke="#e0e0e0" stroke-width="1"/>
<line x1="927.6" x2="927.6" y1="518.5" y2="521.0" stroke="#e0e0e0" stroke-width="1"/>
<line x1="948.0" x2="948.0" y1="518.5" y2="521.0" stroke="#e0e0e0" stroke-width="1"/>
<line x1="969.6" x2="969.6" y1="518.5" y2="521.0" stroke="#e0e0e0" stroke-width="1"/>
<line x1="990.5" x2="990.5" y1="518.5" y2="521.0" stroke="#e0e0e0" stroke-width="1"/>
<line x1="1010.0" x2="1010.0" y1="518.5" y2="521.0" stroke="#e0e0e0" stroke-width="1"/>
<line x1="1030.0" x2="1030.0" y1="518.5" y2="521.0" stroke="#e0e0e0" stroke-width="1"/>
<line x1="1051.0" x2="1051.0" y1="518.5" y2="521.0" stroke="#e0e0e0" stroke-width="1"/>
<line x1="1071.4" x2="1071.4" y1="518.5" y2="521.0" stroke="#e0e0e0" stroke-width="1"/>
<line x1="209.5" x2="209.5" y1="530.5" y2="538" stroke="#c8c8c8" stroke-width="1"/>
<line x1="562.7" x2="562.7" y1="530.5" y2="538" stroke="#c8c8c8" stroke-width="1"/>
<line x1="846.0" x2="846.0" y1="530.5" y2="538" stroke="#c8c8c8" stroke-width="1"/>
</svg>
<span class="t" style="left:44.50px;top:139.00px;font-size:10px;line-height:20px;color:#e8e8e8;transform:scaleX(0.8022);">16000</span>
<span class="t" style="left:44.50px;top:188.00px;font-size:10px;line-height:20px;color:#e8e8e8;transform:scaleX(0.8022);">14000</span>
<span class="t" style="left:44.50px;top:237.00px;font-size:10px;line-height:20px;color:#e8e8e8;transform:scaleX(0.8022);">12000</span>
<span class="t" style="left:44.50px;top:285.00px;font-size:10px;line-height:20px;color:#e8e8e8;transform:scaleX(0.8022);">10000</span>
<span class="t" style="left:48.80px;top:334.00px;font-size:10px;line-height:20px;color:#e8e8e8;transform:scaleX(0.8108);">8000</span>
<span class="t" style="left:48.80px;top:383.00px;font-size:10px;line-height:20px;color:#e8e8e8;transform:scaleX(0.8108);">6000</span>
<span class="t" style="left:48.80px;top:432.00px;font-size:10px;line-height:20px;color:#e8e8e8;transform:scaleX(0.8108);">4000</span>
<span class="t" style="left:48.80px;top:480.00px;font-size:10px;line-height:20px;color:#e8e8e8;transform:scaleX(0.8108);">2000</span>
<span class="t" style="left:1095.50px;top:115.00px;font-size:10px;line-height:20px;color:#e8e8e8;transform:scaleX(0.7658);">1400</span>
<span class="t" style="left:1095.50px;top:174.00px;font-size:10px;line-height:20px;color:#e8e8e8;transform:scaleX(0.7658);">1200</span>
<span class="t" style="left:1095.50px;top:233.00px;font-size:10px;line-height:20px;color:#e8e8e8;transform:scaleX(0.7658);">1000</span>
<span class="t" style="left:1095.50px;top:292.00px;font-size:10px;line-height:20px;color:#e8e8e8;transform:scaleX(0.7665);">800</span>
<span class="t" style="left:1095.50px;top:351.00px;font-size:10px;line-height:20px;color:#e8e8e8;transform:scaleX(0.7665);">600</span>
<span class="t" style="left:1095.50px;top:411.00px;font-size:10px;line-height:20px;color:#e8e8e8;transform:scaleX(0.7665);">400</span>
<span class="t" style="left:1095.50px;top:470.00px;font-size:10px;line-height:20px;color:#e8e8e8;transform:scaleX(0.7665);">200</span>
<span class="t" style="left:98.70px;top:517.00px;font-size:10px;line-height:20px;color:#e8e8e8;transform:scaleX(0.8202);">Sep</span>
<span class="t" style="left:187.70px;top:517.00px;font-size:10px;line-height:20px;color:#e8e8e8;transform:scaleX(0.8202);">Dec</span>
<span class="t" style="left:272.70px;top:517.00px;font-size:10px;line-height:20px;color:#e8e8e8;transform:scaleX(0.8488);">Mar</span>
<span class="t" style="left:361.20px;top:517.00px;font-size:10px;line-height:20px;color:#e8e8e8;transform:scaleX(0.9068);">Jun</span>
<span class="t" style="left:451.70px;top:517.00px;font-size:10px;line-height:20px;color:#e8e8e8;transform:scaleX(0.8202);">Sep</span>
<span class="t" style="left:540.40px;top:517.00px;font-size:10px;line-height:20px;color:#e8e8e8;transform:scaleX(0.8202);">Dec</span>
<span class="t" style="left:627.70px;top:517.00px;font-size:10px;line-height:20px;color:#e8e8e8;transform:scaleX(0.8488);">Mar</span>
<span class="t" style="left:700.20px;top:517.00px;font-size:10px;line-height:20px;color:#e8e8e8;transform:scaleX(0.9068);">Jun</span>
<span class="t" style="left:764.40px;top:517.00px;font-size:10px;line-height:20px;color:#e8e8e8;transform:scaleX(0.8202);">Sep</span>
<span class="t" style="left:827.70px;top:517.00px;font-size:10px;line-height:20px;color:#e8e8e8;transform:scaleX(0.8202);">Dec</span>
<span class="t" style="left:888.70px;top:517.00px;font-size:10px;line-height:20px;color:#e8e8e8;transform:scaleX(0.8488);">Mar</span>
<span class="t" style="left:952.40px;top:517.00px;font-size:10px;line-height:20px;color:#e8e8e8;transform:scaleX(0.9068);">Jun</span>
<span class="t" style="left:1014.20px;top:517.00px;font-size:10px;line-height:20px;color:#e8e8e8;transform:scaleX(0.8202);">Sep</span>
<span class="t" style="left:1071.70px;top:517.00px;font-size:10px;line-height:20px;color:#e8e8e8;transform:scaleX(0.8202);">Dec</span>
<span class="t" style="left:131.80px;top:527.00px;font-size:10px;line-height:20px;color:#e8e8e8;transform:scaleX(0.7387);">1998</span>
<span class="t" style="left:377.80px;top:527.00px;font-size:10px;line-height:20px;color:#e8e8e8;transform:scaleX(0.7387);">1999</span>
<span class="t" style="left:695.30px;top:527.00px;font-size:10px;line-height:20px;color:#e8e8e8;transform:scaleX(0.7387);">2000</span>
<span class="t" style="left:957.80px;top:527.00px;font-size:10px;line-height:20px;color:#e8e8e8;transform:scaleX(0.7387);">2001</span>
<div class="b" style="left:476.8px;top:112.2px;width:173.2px;height:11.599999999999994px;background:rgba(30,30,30,0.84);"></div>
<div class="b" style="left:518.3px;top:112.2px;width:51.700000000000045px;height:11.599999999999994px;background:rgba(16,40,82,0.9);"></div>
<div class="b" style="left:517.4px;top:112.2px;width:0.7999999999999545px;height:11.599999999999994px;background:#0c0c0c;"></div>
<div class="b" style="left:570.2px;top:112.2px;width:0.7999999999999545px;height:11.599999999999994px;background:#0c0c0c;"></div>
<div class="b" style="left:610.1px;top:112.2px;width:0.7999999999999545px;height:11.599999999999994px;background:#0c0c0c;"></div>
<span class="t" style="left:493.70px;top:108.00px;font-size:9px;line-height:20px;color:#d4d4d4;transform:scaleX(0.9312);">Track</span>
<span class="t" style="left:535.30px;top:108.00px;font-size:9px;line-height:20px;color:#d4d4d4;transform:scaleX(0.8944);">Annotate</span>
<span class="t" style="left:588.00px;top:108.00px;font-size:9px;line-height:20px;color:#d4d4d4;transform:scaleX(0.8444);">News</span>
<span class="t" style="left:628.50px;top:108.00px;font-size:9px;line-height:20px;color:#d4d4d4;transform:scaleX(0.8594);">Zoom</span>
<div class="b" style="left:0px;top:1.5px;width:8.2px;height:18.0px;background:#3b8df0;"></div>
<span class="t" style="left:11.40px;top:1.00px;font-size:17px;line-height:20px;color:#fff;transform:scaleX(0.7109);-webkit-text-stroke:0.35px currentColor;">SOX</span>
<span class="t" style="left:65.60px;top:1.00px;font-size:17px;line-height:20px;color:#f0243c;transform:scaleX(1.0580);-webkit-text-stroke:0.35px currentColor;">4306.870</span>
<span class="t" style="left:161.50px;top:1.00px;font-size:17px;line-height:20px;color:#f0243c;transform:scaleX(1.0052);-webkit-text-stroke:0.35px currentColor;">-184.842</span>
<span class="t" style="left:408.00px;top:1.00px;font-size:17px;line-height:20px;color:#f4f4f4;transform:scaleX(1.5451);-webkit-text-stroke:0.35px currentColor;">-- / --</span>
<div class="b" style="left:11.7px;top:20px;width:19.3px;height:19px;background:#ffe100;"></div>
<span class="t" style="left:41.30px;top:21.00px;font-size:17px;line-height:20px;color:#f9a024;transform:scaleX(0.7386);-webkit-text-stroke:0.35px currentColor;">On</span>
<span class="t" style="left:67.00px;top:21.00px;font-size:17px;line-height:20px;color:#fff;transform:scaleX(0.9922);-webkit-text-stroke:0.35px currentColor;">19-Apr</span>
<span class="t" style="left:135.20px;top:21.00px;font-size:17px;line-height:20px;color:#f9a024;transform:scaleX(0.6259);-webkit-text-stroke:0.35px currentColor;">O</span>
<span class="t" style="left:150.00px;top:21.00px;font-size:17px;line-height:20px;color:#fff;transform:scaleX(0.9804);-webkit-text-stroke:0.35px currentColor;">4444.913</span>
<span class="t" style="left:235.50px;top:21.00px;font-size:17px;line-height:20px;color:#f9a024;transform:scaleX(0.6536);-webkit-text-stroke:0.35px currentColor;">H</span>
<span class="t" style="left:250.00px;top:21.00px;font-size:17px;line-height:20px;color:#fff;transform:scaleX(0.9804);-webkit-text-stroke:0.35px currentColor;">4480.070</span>
<span class="t" style="left:335.50px;top:21.00px;font-size:17px;line-height:20px;color:#f9a024;transform:scaleX(0.7353);-webkit-text-stroke:0.35px currentColor;">L</span>
<span class="t" style="left:350.00px;top:21.00px;font-size:17px;line-height:20px;color:#fff;transform:scaleX(0.9804);-webkit-text-stroke:0.35px currentColor;">4287.996</span>
<span class="t" style="left:435.00px;top:21.00px;font-size:17px;line-height:20px;color:#f9a024;transform:scaleX(0.9709);-webkit-text-stroke:0.35px currentColor;">Prev</span>
<span class="t" style="left:479.00px;top:21.00px;font-size:17px;line-height:20px;color:#fff;transform:scaleX(0.9874);-webkit-text-stroke:0.35px currentColor;">4491.712</span>
<div class="b" style="left:230px;top:40px;width:891px;height:19.6px;background:#8a0f25;"></div>
<div class="b" style="left:0.7px;top:41px;width:228.5px;height:17.200000000000003px;background:#f9a024;"></div>
<span class="t" style="left:3.60px;top:39.00px;font-size:15.5px;line-height:20px;color:#241200;transform:scaleX(0.9597);-webkit-text-stroke:0.35px currentColor;">SOX Index</span>
<div class="b" style="left:391.4px;top:40px;width:1.2000000000000455px;height:19.6px;background:#5e0a18;"></div>
<div class="b" style="left:483.79999999999995px;top:40px;width:1.2000000000000455px;height:19.6px;background:#5e0a18;"></div>
<div class="b" style="left:552.8px;top:40px;width:1.2000000000000455px;height:19.6px;background:#5e0a18;"></div>
<span class="t" style="left:236.40px;top:39.00px;font-size:15px;line-height:20px;color:#d9a3ad;transform:scaleX(0.6069);-webkit-text-stroke:0.35px currentColor;">94)</span>
<span class="t" style="left:255.20px;top:39.00px;font-size:15px;line-height:20px;color:#fff;transform:scaleX(0.9792);-webkit-text-stroke:0.35px currentColor;">Suggested Charts</span>
<span class="t" style="left:398.50px;top:39.00px;font-size:15px;line-height:20px;color:#d9a3ad;transform:scaleX(0.5977);-webkit-text-stroke:0.35px currentColor;">96)</span>
<span class="t" style="left:417.30px;top:39.00px;font-size:15px;line-height:20px;color:#fff;transform:scaleX(0.9654);-webkit-text-stroke:0.35px currentColor;">Actions</span>
<span class="t" style="left:490.80px;top:39.00px;font-size:15px;line-height:20px;color:#d9a3ad;transform:scaleX(0.5977);-webkit-text-stroke:0.35px currentColor;">97)</span>
<span class="t" style="left:509.70px;top:39.00px;font-size:15px;line-height:20px;color:#fff;transform:scaleX(0.9364);-webkit-text-stroke:0.35px currentColor;">Edit</span>
<span class="t" style="left:907.60px;top:39.00px;font-size:15px;line-height:20px;color:#fff;transform:scaleX(1.0147);">G 37: Candle Chart-dotcomlne</span>
<div class="b" style="left:0.7px;top:64.3px;width:73.8px;height:14.299999999999997px;background:#f9a024;"></div>
<span class="t" style="left:5.00px;top:62.00px;font-size:13px;line-height:20px;color:#241200;transform:scaleX(1.0431);-webkit-text-stroke:0.25px currentColor;">12/28/2022</span>
<div class="b" style="left:75.6px;top:64.3px;width:11.200000000000003px;height:14.299999999999997px;background:#454545;"></div>
<span class="t" style="left:91.40px;top:62.00px;font-size:13px;line-height:20px;color:#f9a024;transform:scaleX(1.0256);-webkit-text-stroke:0.25px currentColor;">-</span>
<div class="b" style="left:98.2px;top:64.3px;width:73.99999999999999px;height:14.299999999999997px;background:#f9a024;"></div>
<span class="t" style="left:102.50px;top:62.00px;font-size:13px;line-height:20px;color:#241200;transform:scaleX(1.0610);-webkit-text-stroke:0.25px currentColor;">11/30/2001</span>
<div class="b" style="left:173.4px;top:64.3px;width:11.0px;height:14.299999999999997px;background:#454545;"></div>
<div class="b" style="left:186.8px;top:64.3px;width:15.0px;height:14.299999999999997px;background:#3a3a3a;"></div>
<div class="b" style="left:204.2px;top:64.3px;width:15.0px;height:14.299999999999997px;background:#3a3a3a;"></div>
<div class="b" style="left:224.2px;top:64.3px;width:68.60000000000002px;height:14.299999999999997px;background:#f9a024;"></div>
<span class="t" style="left:226.40px;top:62.00px;font-size:13px;line-height:20px;color:#241200;transform:scaleX(0.8626);-webkit-text-stroke:0.25px currentColor;">Local CCY</span>
<div class="b" style="left:294.2px;top:64.3px;width:10.800000000000011px;height:14.299999999999997px;background:#454545;"></div>
<div class="b" style="left:1074px;top:64px;width:24px;height:14.5px;background:#3a3a3a;"></div>
<div class="b" style="left:1099px;top:64px;width:22px;height:14.5px;background:#3a3a3a;"></div>
<span class="t" style="left:2.10px;top:78.00px;font-size:13px;line-height:20px;color:#f9a024;transform:scaleX(0.9435);-webkit-text-stroke:0.25px currentColor;">Study</span>
<div class="b" style="left:42.5px;top:80.2px;width:74.8px;height:14.099999999999994px;background:#f9a024;"></div>
<span class="t" style="left:44.20px;top:78.00px;font-size:13px;line-height:20px;color:#241200;transform:scaleX(0.9313);-webkit-text-stroke:0.25px currentColor;">Simple MA</span>
<div class="b" style="left:118.2px;top:80.2px;width:10.799999999999997px;height:14.099999999999994px;background:#454545;"></div>
<span class="t" style="left:140.60px;top:78.00px;font-size:13px;line-height:20px;color:#f9a024;transform:scaleX(0.9529);-webkit-text-stroke:0.25px currentColor;">Period</span>
<div class="b" style="left:181.7px;top:80.2px;width:25.30000000000001px;height:14.099999999999994px;background:#f9a024;"></div>
<span class="t" style="left:191.40px;top:78.00px;font-size:13px;line-height:20px;color:#241200;transform:scaleX(0.9425);-webkit-text-stroke:0.25px currentColor;">50</span>
<span class="t" style="left:218.50px;top:78.00px;font-size:13px;line-height:20px;color:#f9a024;transform:scaleX(0.9724);-webkit-text-stroke:0.25px currentColor;">Offset</span>
<div class="b" style="left:256.8px;top:80.2px;width:33.19999999999999px;height:14.099999999999994px;background:#f9a024;"></div>
<span class="t" style="left:281.30px;top:78.00px;font-size:13px;line-height:20px;color:#241200;transform:scaleX(0.8242);-webkit-text-stroke:0.25px currentColor;">0</span>
<div class="b" style="left:0px;top:96px;width:1121px;height:15.299999999999997px;background:#2b2b2b;"></div>
<div class="b" style="left:26.3px;top:96px;width:1.0px;height:15.299999999999997px;background:#191919;"></div>
<div class="b" style="left:53.0px;top:96px;width:1.0px;height:15.299999999999997px;background:#191919;"></div>
<div class="b" style="left:79.0px;top:96px;width:1.0px;height:15.299999999999997px;background:#191919;"></div>
<div class="b" style="left:120.8px;top:96px;width:1.0px;height:15.299999999999997px;background:#191919;"></div>
<div class="b" style="left:144.9px;top:96px;width:1.0px;height:15.299999999999997px;background:#191919;"></div>
<div class="b" style="left:177.0px;top:96px;width:1.0px;height:15.299999999999997px;background:#191919;"></div>
<div class="b" style="left:209.5px;top:96px;width:1.0px;height:15.299999999999997px;background:#191919;"></div>
<div class="b" style="left:296.5px;top:96px;width:1.0px;height:15.299999999999997px;background:#191919;"></div>
<div class="b" style="left:341.9px;top:96px;width:1.0px;height:15.299999999999997px;background:#191919;"></div>
<div class="b" style="left:366.3px;top:96px;width:1.0px;height:15.299999999999997px;background:#191919;"></div>
<div class="b" style="left:420.8px;top:96px;width:1.0px;height:15.299999999999997px;background:#191919;"></div>
<div class="b" style="left:1006.0px;top:96px;width:1.0px;height:15.299999999999997px;background:#191919;"></div>
<div class="b" style="left:1081.3px;top:96px;width:1.0px;height:15.299999999999997px;background:#191919;"></div>
<div class="b" style="left:1102.1px;top:96px;width:1.0px;height:15.299999999999997px;background:#191919;"></div>
<span class="t" style="left:8.00px;top:93.00px;font-size:12px;line-height:20px;color:#f4f4f4;transform:scaleX(0.6966);">1D</span>
<span class="t" style="left:33.90px;top:93.00px;font-size:12px;line-height:20px;color:#f4f4f4;transform:scaleX(0.7878);">5D</span>
<span class="t" style="left:60.70px;top:93.00px;font-size:12px;line-height:20px;color:#f4f4f4;transform:scaleX(0.7374);">1M</span>
<span class="t" style="left:87.40px;top:93.00px;font-size:12px;line-height:20px;color:#f4f4f4;transform:scaleX(0.8084);">1H1M</span>
<span class="t" style="left:127.60px;top:93.00px;font-size:12px;line-height:20px;color:#f4f4f4;transform:scaleX(0.7309);">1Y</span>
<span class="t" style="left:153.40px;top:93.00px;font-size:12px;line-height:20px;color:#f4f4f4;transform:scaleX(0.7537);">10Y</span>
<span class="t" style="left:184.60px;top:93.00px;font-size:12px;line-height:20px;color:#f4f4f4;transform:scaleX(0.8146);">20Y</span>
<span class="t" style="left:216.00px;top:93.00px;font-size:12px;line-height:20px;color:#f4f4f4;transform:scaleX(0.8686);">Max</span>
<div class="b" style="left:243.8px;top:96px;width:49.39999999999998px;height:15.299999999999997px;background:#1059c9;"></div>
<span class="t" style="left:248.50px;top:93.00px;font-size:12px;line-height:20px;color:#f4f4f4;transform:scaleX(0.9047);">Daily</span>
<div class="b" style="left:318.5px;top:96.5px;width:19.69999999999999px;height:14.299999999999997px;background:#1059c9;"></div>
<span class="t" style="left:380.70px;top:93.00px;font-size:12px;line-height:20px;color:#f4f4f4;transform:scaleX(0.9310);">Table</span>
<div class="b" style="left:842.2px;top:96.6px;width:144.79999999999995px;height:13.200000000000003px;background:#f9a024;"></div>
<span class="t" style="left:844.30px;top:93.00px;font-size:13px;line-height:20px;color:#b8700e;transform:scaleX(0.9094);">Add Data</span>
<span class="t" style="left:1027.30px;top:93.00px;font-size:12px;line-height:20px;color:#f4f4f4;transform:scaleX(0.9232);">Edit Chart</span>
<div class="b" style="left:0px;top:154px;width:9.5px;height:164.5px;background:#272727;"></div>
<span class="t" style="left:0px;top:251px;font-size:9.5px;line-height:9px;color:#c4c4c4;transform:rotate(-90deg) scaleX(0.97);transform-origin:0 0;">Favorites</span>
<div class="b" style="left:11.8px;top:112.5px;width:20.400000000000002px;height:19.30000000000001px;background:#2d5c9c;"></div>
<div class="b" style="left:11.8px;top:133.2px;width:20.400000000000002px;height:19.30000000000001px;background:#2c2c2c;"></div>
<div class="b" style="left:11.8px;top:153.8px;width:20.400000000000002px;height:19.30000000000001px;background:#2c2c2c;"></div>
<div class="b" style="left:11.8px;top:174.4px;width:20.400000000000002px;height:19.30000000000001px;background:#2c2c2c;"></div>
<div class="b" style="left:11.8px;top:195px;width:20.400000000000002px;height:19.30000000000001px;background:#2c2c2c;"></div>
<div class="b" style="left:11.8px;top:215.6px;width:20.400000000000002px;height:19.30000000000001px;background:#2c2c2c;"></div>
<div class="b" style="left:11.8px;top:236.2px;width:20.400000000000002px;height:19.30000000000001px;background:#2c2c2c;"></div>
<div class="b" style="left:11.8px;top:256.8px;width:20.400000000000002px;height:19.30000000000001px;background:#2c2c2c;"></div>
<div class="b" style="left:11.8px;top:277.4px;width:20.400000000000002px;height:19.30000000000001px;background:#2c2c2c;"></div>
<div class="b" style="left:11.8px;top:298px;width:20.400000000000002px;height:19.30000000000001px;background:#2c2c2c;"></div>
<div class="b" style="left:13.8px;top:197.9px;width:15.399999999999999px;height:15.799999999999983px;background:#c8c8fc;"></div>
<span class="t" style="left:16.60px;top:196.00px;font-size:20px;line-height:20px;color:#f6f6f6;transform:scaleX(0.9016);font-family:'Liberation Serif',serif;text-shadow:-0.9px 0 0 #85858f;">T</span>
<div class="b" style="left:76px;top:113.8px;width:227.39999999999998px;height:61.500000000000014px;background:rgba(22,22,22,0.86);"></div>
<span class="t" style="left:173.20px;top:115.00px;font-size:9.5px;line-height:20px;color:#e4e4e4;transform:scaleX(0.9344);">Last Price</span>
<div class="b" style="left:86.7px;top:130.5px;width:8.200000000000003px;height:7.100000000000023px;background:#ffffff;"></div>
<span class="t" style="left:97.80px;top:125.00px;font-size:9.5px;line-height:20px;color:#e4e4e4;transform:scaleX(0.9064);">SOX Index  (R1)</span>
<span class="t" style="left:266.00px;top:125.00px;font-size:9.5px;line-height:20px;color:#e4e4e4;transform:scaleX(0.8456);">518.950</span>
<div class="b" style="left:86.7px;top:140.89999999999998px;width:8.200000000000003px;height:7.100000000000023px;background:#e0109c;"></div>
<span class="t" style="left:97.80px;top:135.00px;font-size:9.5px;line-height:20px;color:#e4e4e4;transform:scaleX(0.8828);">SMAVG (50)  on Close</span>
<span class="t" style="left:266.00px;top:135.00px;font-size:9.5px;line-height:20px;color:#e4e4e4;transform:scaleX(0.8456);">461.851</span>
<div class="b" style="left:86.7px;top:151.29999999999998px;width:8.200000000000003px;height:7.100000000000023px;background:#18b030;"></div>
<span class="t" style="left:97.80px;top:146.00px;font-size:9.5px;line-height:20px;color:#e4e4e4;transform:scaleX(0.8828);">SMAVG (20)  on Close</span>
<span class="t" style="left:266.00px;top:146.00px;font-size:9.5px;line-height:20px;color:#e4e4e4;transform:scaleX(0.8456);">518.694</span>
<div class="b" style="left:86.7px;top:161.7px;width:8.200000000000003px;height:7.100000000000023px;background:#1a7cff;"></div>
<span class="t" style="left:97.80px;top:156.00px;font-size:9.5px;line-height:20px;color:#e4e4e4;transform:scaleX(0.9294);">SOX Index 12/28/2046-11/30/2024</span>
<span class="t" style="left:266.00px;top:156.00px;font-size:9.5px;line-height:20px;color:#e4e4e4;transform:scaleX(0.8507);">4306.870</span>
<span class="t" style="left:244.50px;top:156.00px;font-size:9.5px;line-height:20px;color:#e4e4e4;">(L1)</span>
<svg class="ov" width="1121" height="538" viewBox="0 0 1121 538"><path d="M33 428.2H69.5L73.5 433.4L69.5 438.6H33Z" fill="#1e82ff"/><path d="M1121 380.6H1094.5L1090.5 385.3L1094.5 390H1121Z" fill="#f4f4f4"/><path d="M1121 397.6H1094.5L1090.5 402.3L1094.5 407H1121Z" fill="#e0109c"/></svg>
<span class="t" style="left:34.60px;top:423.00px;font-size:10.5px;line-height:20px;color:#fff;transform:scaleX(0.7628);">4306.870</span>
<span class="t" style="left:1095.50px;top:376.00px;font-size:10px;line-height:20px;color:#000;transform:scaleX(0.7756);">518.950</span>
<span class="t" style="left:1095.50px;top:393.00px;font-size:10px;line-height:20px;color:#fff;transform:scaleX(0.7756);">461.851</span>
<svg class="ov" width="1121" height="538" viewBox="0 0 1121 538" fill="none">
<path d="M55 18.8V5.2M51.8 9.2L55 4.8L58.2 9.2" stroke="#2fbf4c" stroke-width="1.7"/>
<polyline points="257.1,6.8 259.3,5 262.1,3.3 265.7,2.1 268.6,3 271,3.3 273.9,6.5 278,6.7 281,6.4 284.2,6.1 286.4,6.7 291.8,6.7" stroke="#dcdcdc" stroke-width="1.1"/>
<polyline points="297,8.6 299.3,8.2 301.8,11.1 303.6,10.4 305.7,12.1 307.5,12.1 309.6,15 312.1,13.2 314.3,13.2 316.4,13.9 318.5,15.3 321.4,18.7 323.2,17.5 325,18.7 331.5,18.4" stroke="#e01020" stroke-width="1.1"/>
<path d="M16.6 36.2A7.3 7.3 0 1 1 26.2 36.2" stroke="#1c1400" stroke-width="1.4"/>
<path d="M21.4 24.6L22.5 36H20.3Z" fill="#1c1400"/>
<path d="M16.2 28.2l1.7 1M26.6 28.2l-1.7 1M18.6 25.2l.9 1.6M24.2 25.2l-.9 1.6M14.9 32.2h1.9M27.9 32.2h-1.9" stroke="#1c1400" stroke-width="1.1"/>
<path d="M1108 23.5h9.5v9.5h-9.5z" stroke="#f0f0f0" stroke-width="1.6"/><path d="M1112 27.5l7 7M1119.5 30v5h-5" stroke="#f0f0f0" stroke-width="1.6"/><path d="M1113 38.5h8M1120.5 37v1.5" stroke="#bbb" stroke-width="1" stroke-dasharray="1.5 1"/>
<path d="M888 43.6H883v11.4h11.4V50" stroke="#fff" stroke-width="2"/><path d="M887.5 51L894.5 44M890 43.6h5v5" stroke="#fff" stroke-width="2"/>
<path d="M380.2 48.5h5.2l-2.6 3.6z" fill="#e8d0d4"/>
<path d="M472.4 48.5h5.2l-2.6 3.6z" fill="#e8d0d4"/>
<path d="M541.4 48.5h5.2l-2.6 3.6z" fill="#e8d0d4"/>
<path d="M77.5 68.5h7.2v7h-7.2zM77.5 70.6h7.2" stroke="#c8c8c8" stroke-width="1.1"/><path d="M79.1 67.2v1.6M83.1 67.2v1.6" stroke="#d8d8d8" stroke-width="1.1"/>
<path d="M175 68.5h7.2v7h-7.2zM175 70.6h7.2" stroke="#c8c8c8" stroke-width="1.1"/><path d="M176.6 67.2v1.6M180.6 67.2v1.6" stroke="#d8d8d8" stroke-width="1.1"/>
<path d="M196.3 67.9L192.3 71.5L196.3 75.1" stroke="#f0f0f0" stroke-width="1.4"/>
<path d="M209.7 67.9L213.7 71.5L209.7 75.1" stroke="#f0f0f0" stroke-width="1.4"/>
<path d="M297.0 70.4h5.2l-2.6 3.6z" fill="#f0f0f0"/>
<path d="M121.0 86.2h5.2l-2.6 3.6z" fill="#f0f0f0"/>
<path d="M1082 69.2h5a3.2 3.2 0 0 1 0 6.4h-3" stroke="#f0f0f0" stroke-width="1.6"/><path d="M1083.6 66.3l-3.6 2.9l3.6 2.9z" fill="#f0f0f0"/>
<path d="M1113.5 69.2h-5a3.2 3.2 0 0 0 0 6.4h3" stroke="#777" stroke-width="1.6"/><path d="M1112 66.3l3.6 2.9l-3.6 2.9z" fill="#777"/>
<path d="M303.8 90.2L311 83l1.8 1.8L305.6 92z" fill="#f0f0f0" stroke="#f0f0f0" stroke-width="1"/><path d="M301.5 93.2l1.2-3.2 2.1 2.1z" fill="#f0f0f0"/>
<path d="M279.4 99.6h8.8l-4.4 7.2z" fill="#f4f4f4"/>
<path d="M302.4 98.8v8.8h11" stroke="#e0e0e0" stroke-width="1.1"/><path d="M303.6 105l3-3.2l2.3 1.6l4.2-4" stroke="#e0e0e0" stroke-width="1.1"/>
<path d="M325.7 98v10.6M330.4 100v8" stroke="#f0f0f0" stroke-width="1"/><path d="M324.4 100h2.6v6h-2.6zM329.1 102h2.6v4.6h-2.6z" fill="#f0f0f0"/>
<path d="M352.4 102.6h5.2l-2.6 3.4z" fill="#f0f0f0"/>
<path d="M997 100l-3.6 3.8l3.6 3.8M1002 100l-3.6 3.8l3.6 3.8" stroke="#f0f0f0" stroke-width="1.5"/>
<path d="M1013.5 106L1020 99.5l1.8 1.8L1015.3 107.8z" fill="#f0f0f0" stroke="#f0f0f0" stroke-width="1"/><path d="M1011.3 109l1.2-3.2 2.1 2.1z" fill="#f0f0f0"/>
<path d="M1088 99.5h9v8.5h-9z" stroke="#ddd" stroke-width="1.1"/><path d="M1090 106.5l6.5-6.5" stroke="#f4f4f4" stroke-width="2"/>
<g transform="translate(1113.8 103.6)"><circle r="3.1" stroke="#f0f0f0" stroke-width="2.2"/><path d="M0 -3.6V-6" stroke="#f0f0f0" stroke-width="1.9" transform="rotate(0)"/><path d="M0 -3.6V-6" stroke="#f0f0f0" stroke-width="1.9" transform="rotate(45)"/><path d="M0 -3.6V-6" stroke="#f0f0f0" stroke-width="1.9" transform="rotate(90)"/><path d="M0 -3.6V-6" stroke="#f0f0f0" stroke-width="1.9" transform="rotate(135)"/><path d="M0 -3.6V-6" stroke="#f0f0f0" stroke-width="1.9" transform="rotate(180)"/><path d="M0 -3.6V-6" stroke="#f0f0f0" stroke-width="1.9" transform="rotate(225)"/><path d="M0 -3.6V-6" stroke="#f0f0f0" stroke-width="1.9" transform="rotate(270)"/><path d="M0 -3.6V-6" stroke="#f0f0f0" stroke-width="1.9" transform="rotate(315)"/></g>
<path d="M484.4 114.6v7M480.9 118.1h7" stroke="#6a6a6a" stroke-width="1"/><circle cx="484.4" cy="118.1" r="1.3" fill="#6a6a6a"/>
<path d="M521.5 121.5l5-5" stroke="#8c8c8c" stroke-width="1.2"/><path d="M523 122h5" stroke="#606060" stroke-width="1"/>
<path d="M576.2 115.2h2.4v2.4h-2.4zM579.6 115.2h2.6v2.4h-2.6zM576.2 118.6h2.4v2.6h-2.4zM579.6 118.6h2.6v2.6h-2.6z" fill="#606060"/>
<circle cx="617.5" cy="117.2" r="2.5" stroke="#6a6a6a" stroke-width="1"/><path d="M619.3 119l2.5 2.6" stroke="#6a6a6a" stroke-width="1.1"/>
<path d="M5.2 116l-2.2 -3.3v6.6z" fill="#9a9a9a"/>
<path d="M15.8 114.6L29.6 122.6L23.7 123.8L27 129.6L24.4 131L21.2 125.2L17.2 129.2Z" fill="#fff"/>
<path d="M18.5 145l6-6.2l1.6 1.6l-6 6.2z" fill="#eee"/><path d="M16 148.3h9" stroke="#ddd" stroke-width="1.2"/><path d="M27 149h4l-2 2.4z" fill="#ddd"/>
<path d="M14.5 157.5h9M19 157.5v8" stroke="#f0f0f0" stroke-width="1.6"/><path d="M15.3 163.5h7.4l-3.7 5z" fill="#f0f0f0"/><path d="M14.5 170.8h9" stroke="#f0f0f0" stroke-width="1.4"/>
<text x="24.3" y="170.0" font-family="Liberation Sans, sans-serif" font-weight="bold" font-size="9.5" fill="#f0f0f0">%</text>
<path d="M14.5 178.1h9M19 178.1v8" stroke="#f0f0f0" stroke-width="1.6"/><path d="M15.3 184.1h7.4l-3.7 5z" fill="#f0f0f0"/><path d="M14.5 191.4h9" stroke="#f0f0f0" stroke-width="1.4"/>
<text x="24.3" y="190.6" font-family="Liberation Sans, sans-serif" font-weight="bold" font-size="9.5" fill="#f0f0f0">$</text>
<path d="M15 226.3h14" stroke="#f4f4f4" stroke-width="1.6"/>
<path d="M14.5 253.5L29.5 240" stroke="#f4f4f4" stroke-width="1.4"/><circle cx="17" cy="251.2" r="2.6" fill="#f4f4f4"/><circle cx="25" cy="244" r="2.6" fill="#f4f4f4"/>
<path d="M14.5 274.5L29.5 260.5" stroke="#f4f4f4" stroke-width="1.4"/><circle cx="19" cy="270.3" r="2.6" fill="#f4f4f4"/><circle cx="25" cy="264.7" r="2.6" fill="#f4f4f4"/>
<path d="M14.5 286.5L29.5 281.5V290L14.5 295z" fill="#9a9a9a"/><path d="M14.5 286.5L29.5 281.5M14.5 295L29.5 290" stroke="#d8d8d8" stroke-width="1"/>
<text x="13.2" y="315.3" font-family="Liberation Sans, sans-serif" font-weight="bold" font-size="16" fill="#f4f4f4" textLength="11.5" lengthAdjust="spacingAndGlyphs">R</text>
<path d="M26.5 304h4M26.5 307.5h4M26.5 311h4M26.5 314.5h4" stroke="#f4f4f4" stroke-width="1.3" stroke-dasharray="1.5 0.8"/>
<path d="M3.2 252.6l5 5.4" stroke="#ddd" stroke-width="1.3"/>
<path d="M80.5 131h3.8v3.8h-3.8zM81.3 132.9h2.2" stroke="#999" stroke-width=".8"/><path d="M82.4 135v19.6h3M82.4 144.4h3" stroke="#999" stroke-width=".8"/>
</svg>
</div>
</body></html>
